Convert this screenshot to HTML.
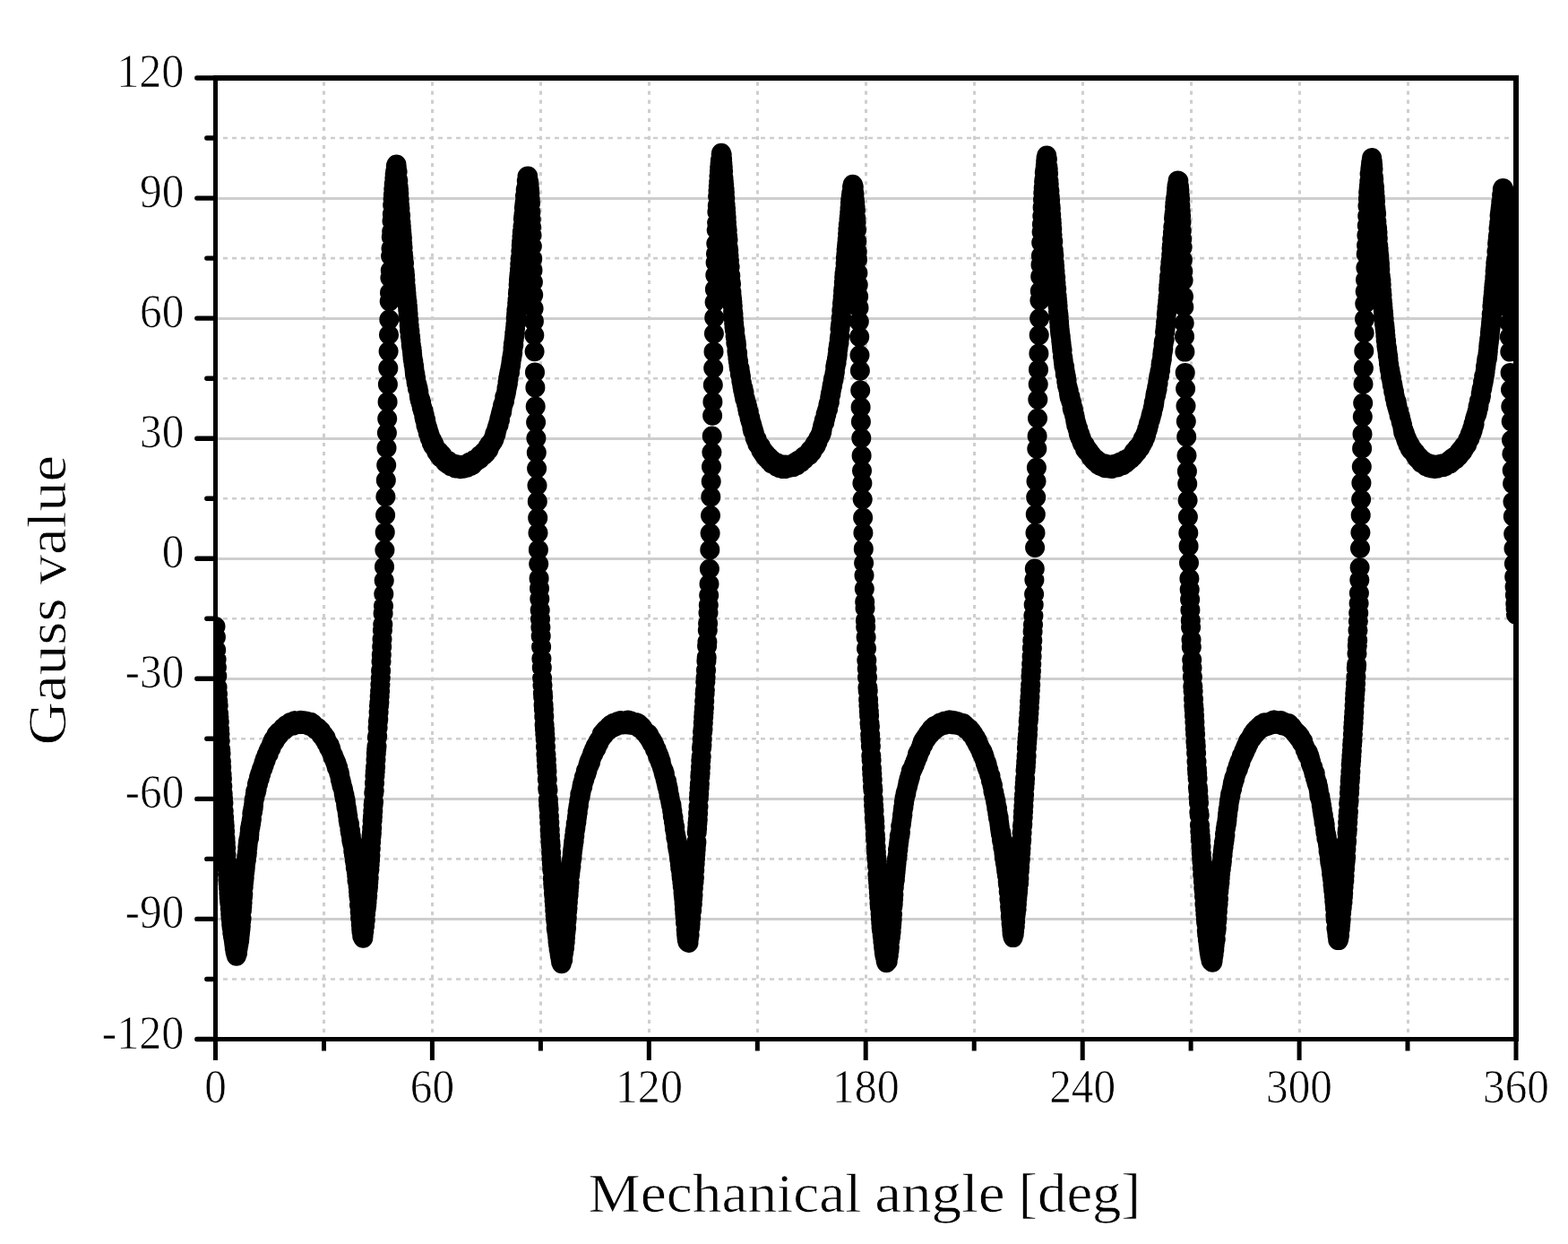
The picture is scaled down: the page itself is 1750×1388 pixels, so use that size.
<!DOCTYPE html>
<html lang="en"><head><meta charset="utf-8"><title>Gauss value vs mechanical angle</title>
<style>html,body{margin:0;padding:0;background:#fff}body{width:1750px;height:1388px;overflow:hidden}svg{display:block}text{font-family:"Liberation Serif",serif;fill:#000;stroke:#fff;stroke-width:0.7px;stroke-linejoin:round}</style></head><body>
<svg width="1750" height="1388" viewBox="0 0 1750 1388">
<rect width="1750" height="1388" fill="#fff"/>
<defs><clipPath id="c"><rect x="240.5" y="87.0" width="1451.5" height="1072.5"/></clipPath></defs>
<g fill="#cecece"><path d="M249.0 1092.5H1692.0" stroke="#cecece" stroke-width="2.6" stroke-dasharray="5 5"/><rect x="243" y="1024" width="1446" height="3"/><path d="M249.0 958.4H1692.0" stroke="#cecece" stroke-width="2.6" stroke-dasharray="5 5"/><rect x="243" y="890" width="1446" height="3"/><path d="M249.0 824.3H1692.0" stroke="#cecece" stroke-width="2.6" stroke-dasharray="5 5"/><rect x="243" y="756" width="1446" height="3"/><path d="M249.0 690.3H1692.0" stroke="#cecece" stroke-width="2.6" stroke-dasharray="5 5"/><rect x="243" y="622" width="1446" height="3"/><path d="M249.0 556.2H1692.0" stroke="#cecece" stroke-width="2.6" stroke-dasharray="5 5"/><rect x="243" y="488" width="1446" height="3"/><path d="M249.0 422.2H1692.0" stroke="#cecece" stroke-width="2.6" stroke-dasharray="5 5"/><rect x="243" y="354" width="1446" height="3"/><path d="M249.0 288.1H1692.0" stroke="#cecece" stroke-width="2.6" stroke-dasharray="5 5"/><rect x="243" y="220" width="1446" height="3"/><path d="M249.0 154.0H1692.0" stroke="#cecece" stroke-width="2.6" stroke-dasharray="5 5"/><path d="M361.5 91.5V1159.5" stroke="#cecece" stroke-width="3" stroke-dasharray="4.2 5.86"/><path d="M482.5 91.5V1159.5" stroke="#cecece" stroke-width="3" stroke-dasharray="4.2 5.86"/><path d="M603.5 91.5V1159.5" stroke="#cecece" stroke-width="3" stroke-dasharray="4.2 5.86"/><path d="M724.5 91.5V1159.5" stroke="#cecece" stroke-width="3" stroke-dasharray="4.2 5.86"/><path d="M845.5 91.5V1159.5" stroke="#cecece" stroke-width="3" stroke-dasharray="4.2 5.86"/><path d="M966.5 91.5V1159.5" stroke="#cecece" stroke-width="3" stroke-dasharray="4.2 5.86"/><path d="M1087.5 91.5V1159.5" stroke="#cecece" stroke-width="3" stroke-dasharray="4.2 5.86"/><path d="M1208.5 91.5V1159.5" stroke="#cecece" stroke-width="3" stroke-dasharray="4.2 5.86"/><path d="M1329.5 91.5V1159.5" stroke="#cecece" stroke-width="3" stroke-dasharray="4.2 5.86"/><path d="M1450.5 91.5V1159.5" stroke="#cecece" stroke-width="3" stroke-dasharray="4.2 5.86"/><path d="M1571.5 91.5V1159.5" stroke="#cecece" stroke-width="3" stroke-dasharray="4.2 5.86"/></g>
<g clip-path="url(#c)"><path d="M240.5 699.0h0M240.9 710.9h0M241.2 725.3h0M241.6 735.8h0M241.9 744.7h0M242.3 754.3h0M242.6 766.7h0M243.0 774.2h0M243.3 782.3h0M243.7 787.2h0M244.0 795.9h0M244.4 800.2h0M244.8 805.7h0M245.1 814.1h0M245.5 818.9h0M245.8 826.4h0M246.2 836.3h0M246.5 840.9h0M246.9 849.6h0M247.2 856.1h0M247.6 864.0h0M247.9 869.1h0M248.3 877.3h0M248.7 885.6h0M249.0 890.5h0M249.4 896.0h0M249.7 905.1h0M250.1 912.1h0M250.4 917.9h0M250.8 921.6h0M251.1 927.8h0M251.5 935.4h0M251.8 940.2h0M252.2 946.2h0M252.5 954.0h0M252.9 960.8h0M253.3 963.4h0M253.6 969.3h0M254.0 975.6h0M254.3 981.6h0M254.7 986.0h0M255.0 990.8h0M255.4 996.8h0M255.7 1001.6h0M256.1 1005.6h0M256.4 1008.2h0M256.8 1014.0h0M257.2 1019.7h0M257.5 1023.7h0M257.9 1026.6h0M258.2 1031.4h0M258.6 1034.7h0M258.9 1036.1h0M259.3 1041.0h0M259.6 1041.9h0M260.0 1045.3h0M260.3 1046.3h0M260.7 1048.9h0M261.1 1051.7h0M261.4 1054.2h0M261.8 1058.0h0M262.1 1058.6h0M262.5 1061.9h0M262.8 1062.2h0M263.2 1064.5h0M263.5 1064.6h0M263.9 1066.7h0M264.2 1065.5h0M264.6 1061.2h0M265.0 1063.6h0M265.3 1059.6h0M265.7 1057.8h0M266.0 1055.1h0M266.4 1053.7h0M266.7 1050.3h0M267.1 1049.9h0M267.4 1046.7h0M267.8 1042.8h0M268.1 1039.8h0M268.5 1036.8h0M268.8 1033.4h0M269.2 1027.4h0M269.6 1024.7h0M269.9 1016.0h0M270.3 1012.1h0M270.6 1007.3h0M271.0 1001.0h0M271.3 997.8h0M271.7 989.4h0M272.0 985.2h0M272.4 981.7h0M272.7 979.2h0M273.1 973.8h0M273.5 970.7h0M273.8 967.7h0M274.2 963.2h0M274.5 961.3h0M274.9 959.5h0M275.2 955.5h0M275.6 954.2h0M275.9 951.3h0M276.3 945.7h0M276.6 942.6h0M277.0 938.9h0M277.4 936.8h0M277.7 935.5h0M278.1 935.1h0M278.4 930.5h0M278.8 925.7h0M279.1 923.7h0M279.5 922.6h0M279.8 920.1h0M280.2 918.7h0M280.5 916.3h0M280.9 914.1h0M281.3 907.5h0M281.6 906.1h0M282.0 906.0h0M282.3 902.2h0M282.7 901.5h0M283.0 898.4h0M283.4 893.6h0M283.7 891.8h0M284.1 890.6h0M284.4 889.7h0M284.8 886.0h0M285.2 882.9h0M285.5 883.8h0M285.9 884.0h0M286.2 882.5h0M286.6 880.8h0M286.9 875.0h0M287.3 875.6h0M287.6 872.8h0M288.0 874.7h0M288.3 872.9h0M288.7 869.5h0M289.0 867.2h0M289.4 868.7h0M289.8 868.8h0M290.1 863.7h0M290.5 865.4h0M290.8 862.0h0M291.2 863.8h0M291.5 860.1h0M291.9 858.3h0M292.2 857.8h0M292.6 858.6h0M292.9 855.8h0M293.3 857.7h0M293.7 855.8h0M294.0 854.3h0M294.4 851.1h0M294.7 853.7h0M295.1 849.2h0M295.4 848.7h0M295.8 846.9h0M296.1 848.9h0M296.5 848.8h0M296.8 847.7h0M297.2 843.9h0M297.6 842.4h0M297.9 842.8h0M298.3 843.0h0M298.6 843.0h0M299.0 839.5h0M299.3 838.4h0M299.7 841.4h0M300.0 840.0h0M300.4 836.1h0M300.7 835.2h0M301.1 837.0h0M301.5 836.4h0M301.8 834.9h0M302.2 833.5h0M302.5 835.0h0M302.9 830.6h0M303.2 831.3h0M303.6 829.4h0M303.9 831.3h0M304.3 827.0h0M304.6 827.4h0M305.0 828.7h0M305.3 825.1h0M305.7 825.6h0M306.1 824.3h0M306.4 827.6h0M306.8 826.9h0M307.1 822.9h0M307.5 824.5h0M307.8 822.9h0M308.2 824.1h0M308.5 819.5h0M308.9 821.3h0M309.2 819.2h0M309.6 822.5h0M310.0 820.0h0M310.3 821.6h0M310.7 817.1h0M311.0 818.8h0M311.4 820.3h0M311.7 819.9h0M312.1 817.2h0M312.4 819.1h0M312.8 818.1h0M313.1 816.5h0M313.5 815.8h0M313.9 815.0h0M314.2 814.5h0M314.6 815.3h0M314.9 813.8h0M315.3 815.7h0M315.6 814.8h0M316.0 811.9h0M316.3 814.7h0M316.7 814.0h0M317.0 813.6h0M317.4 812.2h0M317.8 814.2h0M318.1 813.8h0M318.5 811.4h0M318.8 812.6h0M319.2 809.8h0M319.5 808.9h0M319.9 809.8h0M320.2 809.0h0M320.6 810.2h0M320.9 811.7h0M321.3 809.6h0M321.7 809.7h0M322.0 808.4h0M322.4 810.5h0M322.7 809.9h0M323.1 806.9h0M323.4 809.5h0M323.8 808.6h0M324.1 805.9h0M324.5 809.0h0M324.8 809.6h0M325.2 806.7h0M325.5 807.3h0M325.9 806.9h0M326.3 809.6h0M326.6 807.7h0M327.0 809.6h0M327.3 808.3h0M327.7 805.9h0M328.0 809.0h0M328.4 807.8h0M328.7 804.3h0M329.1 804.3h0M329.4 806.6h0M329.8 805.2h0M330.2 805.7h0M330.5 806.4h0M330.9 804.4h0M331.2 807.7h0M331.6 804.5h0M331.9 808.3h0M332.3 804.2h0M332.6 805.1h0M333.0 806.2h0M333.3 805.0h0M333.7 806.0h0M334.1 804.4h0M334.4 807.7h0M334.8 805.8h0M335.1 804.0h0M335.5 803.7h0M335.8 807.2h0M336.2 807.1h0M336.5 803.9h0M336.9 806.6h0M337.2 808.1h0M337.6 804.9h0M338.0 806.4h0M338.3 804.9h0M338.7 806.2h0M339.0 806.2h0M339.4 806.6h0M339.7 807.3h0M340.1 804.4h0M340.4 805.6h0M340.8 805.1h0M341.1 804.6h0M341.5 807.9h0M341.8 804.7h0M342.2 805.1h0M342.6 806.9h0M342.9 806.7h0M343.3 809.0h0M343.6 805.9h0M344.0 808.9h0M344.3 807.3h0M344.7 809.4h0M345.0 809.7h0M345.4 807.2h0M345.7 807.9h0M346.1 807.1h0M346.5 806.7h0M346.8 805.8h0M347.2 810.4h0M347.5 807.8h0M347.9 808.2h0M348.2 808.0h0M348.6 808.7h0M348.9 808.9h0M349.3 807.5h0M349.6 809.8h0M350.0 809.6h0M350.4 809.1h0M350.7 812.3h0M351.1 810.9h0M351.4 812.8h0M351.8 812.9h0M352.1 813.9h0M352.5 813.2h0M352.8 813.4h0M353.2 812.3h0M353.5 812.4h0M353.9 811.5h0M354.3 813.5h0M354.6 811.9h0M355.0 814.7h0M355.3 813.3h0M355.7 814.7h0M356.0 814.7h0M356.4 816.8h0M356.7 814.0h0M357.1 815.2h0M357.4 818.7h0M357.8 817.2h0M358.2 815.4h0M358.5 820.4h0M358.9 819.6h0M359.2 817.9h0M359.6 821.8h0M359.9 818.8h0M360.3 820.1h0M360.6 819.8h0M361.0 821.1h0M361.3 819.7h0M361.7 823.2h0M362.0 822.6h0M362.4 825.7h0M362.8 823.8h0M363.1 825.1h0M363.5 822.9h0M363.8 823.7h0M364.2 828.3h0M364.5 829.4h0M364.9 829.7h0M365.2 830.0h0M365.6 828.0h0M365.9 829.6h0M366.3 830.4h0M366.7 831.5h0M367.0 834.5h0M367.4 833.3h0M367.7 831.1h0M368.1 832.8h0M368.4 834.8h0M368.8 837.4h0M369.1 834.7h0M369.5 838.0h0M369.8 837.8h0M370.2 840.7h0M370.6 841.0h0M370.9 841.8h0M371.3 842.4h0M371.6 845.2h0M372.0 842.9h0M372.3 846.3h0M372.7 845.1h0M373.0 845.9h0M373.4 846.5h0M373.7 849.5h0M374.1 850.4h0M374.5 849.1h0M374.8 851.9h0M375.2 854.1h0M375.5 851.4h0M375.9 856.8h0M376.2 853.6h0M376.6 857.6h0M376.9 858.2h0M377.3 856.5h0M377.6 860.3h0M378.0 860.2h0M378.3 863.0h0M378.7 861.8h0M379.1 864.1h0M379.4 866.7h0M379.8 870.0h0M380.1 870.1h0M380.5 870.9h0M380.8 873.4h0M381.2 873.7h0M381.5 876.9h0M381.9 877.0h0M382.2 878.4h0M382.6 879.3h0M383.0 880.6h0M383.3 882.3h0M383.7 885.5h0M384.0 887.0h0M384.4 886.7h0M384.7 891.0h0M385.1 891.0h0M385.4 891.6h0M385.8 893.9h0M386.1 897.7h0M386.5 901.0h0M386.9 901.5h0M387.2 903.3h0M387.6 906.2h0M387.9 909.2h0M388.3 910.8h0M388.6 914.9h0M389.0 916.0h0M389.3 918.9h0M389.7 918.6h0M390.0 919.4h0M390.4 925.5h0M390.8 928.4h0M391.1 927.1h0M391.5 931.2h0M391.8 932.7h0M392.2 937.2h0M392.5 938.9h0M392.9 938.6h0M393.2 941.4h0M393.6 942.5h0M393.9 944.3h0M394.3 949.7h0M394.7 950.8h0M395.0 954.1h0M395.4 956.3h0M395.7 959.4h0M396.1 959.0h0M396.4 963.3h0M396.8 968.3h0M397.1 968.3h0M397.5 969.7h0M397.8 972.8h0M398.2 977.3h0M398.5 982.8h0M398.9 981.9h0M399.3 984.4h0M399.6 989.0h0M400.0 994.6h0M400.3 999.2h0M400.7 1002.0h0M401.0 1009.9h0M401.4 1011.4h0M401.7 1017.6h0M402.1 1024.4h0M402.4 1025.1h0M402.8 1031.4h0M403.2 1036.6h0M403.5 1039.7h0M403.9 1039.1h0M404.2 1044.6h0M404.6 1043.1h0M404.9 1043.6h0M405.3 1046.8h0M405.6 1044.0h0M406.0 1040.3h0M406.3 1039.2h0M406.7 1034.3h0M407.1 1033.3h0M407.4 1028.3h0M407.8 1026.5h0M408.1 1019.5h0M408.5 1015.8h0M408.8 1013.5h0M409.2 1010.9h0M409.5 1006.8h0M409.9 1001.5h0M410.2 999.5h0M410.6 993.1h0M411.0 989.5h0M411.3 984.5h0M411.7 979.7h0M412.0 972.2h0M412.4 970.2h0M412.7 964.6h0M413.1 959.6h0M413.4 954.8h0M413.8 947.1h0M414.1 939.4h0M414.5 933.3h0M414.9 929.4h0M415.2 923.8h0M415.6 915.6h0M415.9 911.2h0M416.3 905.0h0M416.6 898.3h0M417.0 894.9h0M417.3 884.9h0M417.7 882.2h0M418.0 873.8h0M418.4 865.5h0M418.7 861.0h0M419.1 855.7h0M419.5 847.6h0M419.8 840.6h0M420.2 836.0h0M420.5 832.8h0M420.9 822.8h0M421.2 821.2h0M421.6 812.0h0M421.9 805.0h0M422.3 802.6h0M422.6 794.7h0M423.0 787.6h0M423.4 783.9h0M423.7 777.0h0M424.1 771.2h0M424.4 763.7h0M424.8 756.7h0M425.1 748.4h0M425.5 738.3h0M425.8 730.5h0M426.2 721.6h0M426.5 713.2h0M426.9 703.2h0M427.3 696.7h0M427.6 684.4h0M428.0 676.3h0M428.3 662.8h0M428.7 647.8h0M429.0 632.4h0M429.4 613.7h0M429.7 593.9h0M430.1 574.7h0M430.4 554.2h0M430.8 535.9h0M431.2 519.1h0M431.5 499.9h0M431.9 483.0h0M432.2 467.3h0M432.6 448.4h0M432.9 428.9h0M433.3 410.9h0M433.6 392.1h0M434.0 373.5h0M434.3 356.6h0M434.7 336.3h0M435.0 326.5h0M435.4 310.0h0M435.8 301.8h0M436.1 285.7h0M436.5 277.3h0M436.8 264.4h0M437.2 258.2h0M437.5 246.6h0M437.9 238.9h0M438.2 228.9h0M438.6 222.2h0M438.9 217.2h0M439.3 211.1h0M439.7 205.4h0M440.0 205.4h0M440.4 199.0h0M440.7 194.7h0M441.1 191.5h0M441.4 190.5h0M441.8 185.4h0M442.1 187.1h0M442.5 183.6h0M442.8 186.4h0M443.2 190.8h0M443.6 191.6h0M443.9 200.1h0M444.3 201.9h0M444.6 208.0h0M445.0 211.3h0M445.3 216.0h0M445.7 222.6h0M446.0 228.5h0M446.4 232.7h0M446.7 238.8h0M447.1 240.5h0M447.5 248.3h0M447.8 252.9h0M448.2 257.6h0M448.5 261.8h0M448.9 265.4h0M449.2 271.6h0M449.6 276.2h0M449.9 283.0h0M450.3 286.6h0M450.6 291.8h0M451.0 293.7h0M451.4 301.7h0M451.7 303.2h0M452.1 307.2h0M452.4 312.7h0M452.8 319.4h0M453.1 322.8h0M453.5 327.3h0M453.8 331.5h0M454.2 335.8h0M454.5 336.6h0M454.9 341.7h0M455.2 345.4h0M455.6 350.4h0M456.0 356.2h0M456.3 357.2h0M456.7 363.3h0M457.0 368.5h0M457.4 369.4h0M457.7 375.3h0M458.1 375.9h0M458.4 379.5h0M458.8 384.9h0M459.1 387.1h0M459.5 388.9h0M459.9 392.0h0M460.2 395.6h0M460.6 399.9h0M460.9 402.1h0M461.3 403.0h0M461.6 406.7h0M462.0 407.9h0M462.3 410.5h0M462.7 414.4h0M463.0 417.9h0M463.4 417.2h0M463.8 420.9h0M464.1 421.9h0M464.5 426.0h0M464.8 427.8h0M465.2 428.3h0M465.5 429.0h0M465.9 433.4h0M466.2 432.0h0M466.6 433.3h0M466.9 435.8h0M467.3 437.1h0M467.7 441.2h0M468.0 443.5h0M468.4 443.9h0M468.7 446.4h0M469.1 446.5h0M469.4 446.3h0M469.8 450.2h0M470.1 448.8h0M470.5 452.2h0M470.8 455.1h0M471.2 454.2h0M471.5 456.6h0M471.9 458.6h0M472.3 459.1h0M472.6 458.2h0M473.0 460.8h0M473.3 464.5h0M473.7 462.9h0M474.0 468.0h0M474.4 468.3h0M474.7 469.9h0M475.1 468.3h0M475.4 474.6h0M475.8 472.8h0M476.2 474.9h0M476.5 478.0h0M476.9 476.9h0M477.2 477.4h0M477.6 478.9h0M477.9 483.5h0M478.3 481.2h0M478.6 484.6h0M479.0 483.2h0M479.3 485.7h0M479.7 489.1h0M480.1 486.8h0M480.4 488.7h0M480.8 490.1h0M481.1 490.0h0M481.5 491.8h0M481.8 494.5h0M482.2 491.0h0M482.5 494.8h0M482.9 495.6h0M483.2 497.4h0M483.6 494.8h0M484.0 494.5h0M484.3 497.4h0M484.7 496.3h0M485.0 499.3h0M485.4 499.6h0M485.7 500.7h0M486.1 501.3h0M486.4 500.5h0M486.8 502.2h0M487.1 504.1h0M487.5 501.5h0M487.9 503.9h0M488.2 504.0h0M488.6 505.5h0M488.9 506.7h0M489.3 504.2h0M489.6 505.8h0M490.0 503.7h0M490.3 508.7h0M490.7 505.2h0M491.0 509.6h0M491.4 509.2h0M491.7 510.4h0M492.1 508.4h0M492.5 509.6h0M492.8 510.1h0M493.2 507.3h0M493.5 509.7h0M493.9 508.4h0M494.2 508.9h0M494.6 512.0h0M494.9 510.9h0M495.3 513.5h0M495.6 513.0h0M496.0 511.8h0M496.4 512.8h0M496.7 515.5h0M497.1 515.9h0M497.4 512.8h0M497.8 513.5h0M498.1 514.0h0M498.5 516.4h0M498.8 514.0h0M499.2 515.3h0M499.5 517.7h0M499.9 517.8h0M500.3 515.9h0M500.6 514.3h0M501.0 516.5h0M501.3 518.1h0M501.7 516.3h0M502.0 519.0h0M502.4 517.0h0M502.7 518.3h0M503.1 520.3h0M503.4 518.1h0M503.8 518.3h0M504.2 516.5h0M504.5 517.6h0M504.9 519.8h0M505.2 518.2h0M505.6 520.3h0M505.9 518.5h0M506.3 518.9h0M506.6 518.9h0M507.0 521.3h0M507.3 518.7h0M507.7 519.7h0M508.0 518.8h0M508.4 522.4h0M508.8 519.1h0M509.1 518.1h0M509.5 520.0h0M509.8 522.3h0M510.2 518.5h0M510.5 520.4h0M510.9 521.8h0M511.2 520.2h0M511.6 519.1h0M511.9 522.8h0M512.3 520.6h0M512.7 520.3h0M513.0 518.8h0M513.4 523.2h0M513.7 520.9h0M514.1 519.7h0M514.4 520.1h0M514.8 519.0h0M515.1 520.0h0M515.5 520.1h0M515.8 520.1h0M516.2 522.3h0M516.6 518.8h0M516.9 520.4h0M517.3 522.7h0M517.6 518.7h0M518.0 519.3h0M518.3 519.3h0M518.7 522.2h0M519.0 518.9h0M519.4 520.6h0M519.7 518.1h0M520.1 521.3h0M520.5 520.3h0M520.8 521.3h0M521.2 521.6h0M521.5 520.0h0M521.9 518.0h0M522.2 519.2h0M522.6 519.7h0M522.9 516.5h0M523.3 517.4h0M523.6 516.0h0M524.0 519.2h0M524.4 519.6h0M524.7 515.6h0M525.1 519.9h0M525.4 516.2h0M525.8 515.3h0M526.1 516.2h0M526.5 516.7h0M526.8 517.6h0M527.2 517.7h0M527.5 518.7h0M527.9 516.9h0M528.2 516.1h0M528.6 517.1h0M529.0 513.3h0M529.3 513.0h0M529.7 516.2h0M530.0 514.4h0M530.4 512.8h0M530.7 514.0h0M531.1 514.9h0M531.4 512.2h0M531.8 513.4h0M532.1 512.7h0M532.5 511.8h0M532.9 513.8h0M533.2 511.5h0M533.6 513.3h0M533.9 511.1h0M534.3 512.7h0M534.6 509.8h0M535.0 511.7h0M535.3 508.3h0M535.7 511.9h0M536.0 508.9h0M536.4 507.9h0M536.8 507.5h0M537.1 508.9h0M537.5 508.4h0M537.8 509.3h0M538.2 506.2h0M538.5 506.3h0M538.9 507.2h0M539.2 506.9h0M539.6 504.5h0M539.9 505.9h0M540.3 507.8h0M540.7 507.3h0M541.0 503.7h0M541.4 504.5h0M541.7 503.9h0M542.1 504.1h0M542.4 505.7h0M542.8 501.4h0M543.1 503.0h0M543.5 502.2h0M543.8 501.8h0M544.2 502.9h0M544.5 498.3h0M544.9 497.8h0M545.3 502.0h0M545.6 501.2h0M546.0 499.1h0M546.3 495.6h0M546.7 497.5h0M547.0 494.8h0M547.4 497.1h0M547.7 495.7h0M548.1 493.5h0M548.4 493.7h0M548.8 494.8h0M549.2 493.4h0M549.5 491.9h0M549.9 492.4h0M550.2 492.7h0M550.6 491.8h0M550.9 488.6h0M551.3 490.4h0M551.6 489.7h0M552.0 488.3h0M552.3 483.9h0M552.7 483.0h0M553.1 484.5h0M553.4 484.7h0M553.8 482.6h0M554.1 479.3h0M554.5 479.6h0M554.8 476.9h0M555.2 475.8h0M555.5 474.9h0M555.9 473.3h0M556.2 473.8h0M556.6 474.2h0M557.0 469.9h0M557.3 467.5h0M557.7 467.7h0M558.0 468.4h0M558.4 463.7h0M558.7 462.3h0M559.1 460.9h0M559.4 460.8h0M559.8 458.0h0M560.1 460.0h0M560.5 456.9h0M560.9 453.4h0M561.2 451.9h0M561.6 451.3h0M561.9 450.8h0M562.3 449.0h0M562.6 448.5h0M563.0 447.7h0M563.3 442.7h0M563.7 442.5h0M564.0 441.9h0M564.4 440.2h0M564.7 439.2h0M565.1 437.3h0M565.5 433.0h0M565.8 433.0h0M566.2 430.9h0M566.5 426.4h0M566.9 428.1h0M567.2 421.8h0M567.6 422.4h0M567.9 418.3h0M568.3 416.2h0M568.6 414.8h0M569.0 415.8h0M569.4 410.6h0M569.7 409.4h0M570.1 407.8h0M570.4 404.5h0M570.8 401.3h0M571.1 400.2h0M571.5 397.6h0M571.8 395.9h0M572.2 393.5h0M572.5 388.4h0M572.9 383.8h0M573.3 385.1h0M573.6 379.2h0M574.0 376.1h0M574.3 371.8h0M574.7 370.1h0M575.0 366.4h0M575.4 362.1h0M575.7 355.1h0M576.1 350.5h0M576.4 346.1h0M576.8 344.1h0M577.2 338.8h0M577.5 334.4h0M577.9 327.6h0M578.2 324.9h0M578.6 317.5h0M578.9 312.4h0M579.3 308.9h0M579.6 305.9h0M580.0 300.8h0M580.3 294.7h0M580.7 289.3h0M581.0 287.2h0M581.4 280.2h0M581.8 274.0h0M582.1 269.9h0M582.5 264.1h0M582.8 258.7h0M583.2 257.1h0M583.5 252.5h0M583.9 244.3h0M584.2 242.1h0M584.6 238.9h0M584.9 232.0h0M585.3 228.5h0M585.7 225.9h0M586.0 218.7h0M586.4 217.4h0M586.7 211.6h0M587.1 211.6h0M587.4 209.2h0M587.8 201.8h0M588.1 202.0h0M588.5 196.8h0M588.8 197.7h0M589.2 196.5h0M589.6 200.5h0M589.9 202.1h0M590.3 203.3h0M590.6 206.0h0M591.0 211.3h0M591.3 216.1h0M591.7 222.2h0M592.0 226.9h0M592.4 236.7h0M592.7 245.0h0M593.1 253.5h0M593.5 262.2h0M593.8 274.7h0M594.2 288.8h0M594.5 301.6h0M594.9 314.8h0M595.2 329.1h0M595.6 344.2h0M595.9 358.4h0M596.3 374.0h0M596.6 392.3h0M597.0 415.4h0M597.4 432.4h0M597.7 453.6h0M598.1 471.3h0M598.4 489.1h0M598.8 505.0h0M599.1 522.8h0M599.5 541.8h0M599.8 559.5h0M600.2 577.9h0M600.5 594.6h0M600.9 613.4h0M601.2 629.2h0M601.6 645.4h0M602.0 656.5h0M602.3 668.2h0M602.7 680.7h0M603.0 690.7h0M603.4 700.0h0M603.7 709.7h0M604.1 721.8h0M604.4 735.1h0M604.8 744.9h0M605.1 756.8h0M605.5 764.4h0M605.9 773.4h0M606.2 777.8h0M606.6 786.4h0M606.9 791.6h0M607.3 799.4h0M607.6 808.5h0M608.0 813.9h0M608.3 819.3h0M608.7 824.8h0M609.0 833.2h0M609.4 841.9h0M609.8 847.7h0M610.1 855.0h0M610.5 860.6h0M610.8 869.5h0M611.2 879.5h0M611.5 881.5h0M611.9 892.4h0M612.2 898.4h0M612.6 902.5h0M612.9 910.9h0M613.3 917.7h0M613.7 925.8h0M614.0 932.6h0M614.4 939.5h0M614.7 943.5h0M615.1 951.4h0M615.4 958.3h0M615.8 963.6h0M616.1 969.6h0M616.5 971.6h0M616.8 980.3h0M617.2 986.1h0M617.5 989.5h0M617.9 996.6h0M618.3 999.4h0M618.6 1005.2h0M619.0 1010.6h0M619.3 1016.0h0M619.7 1021.2h0M620.0 1025.3h0M620.4 1028.2h0M620.7 1035.4h0M621.1 1038.2h0M621.4 1039.4h0M621.8 1042.5h0M622.2 1046.1h0M622.5 1050.5h0M622.9 1053.6h0M623.2 1055.1h0M623.6 1059.2h0M623.9 1059.6h0M624.3 1062.1h0M624.6 1064.7h0M625.0 1067.2h0M625.3 1067.8h0M625.7 1070.9h0M626.1 1073.4h0M626.4 1074.3h0M626.8 1075.2h0M627.1 1072.4h0M627.5 1070.8h0M627.8 1070.3h0M628.2 1070.9h0M628.5 1066.0h0M628.9 1063.3h0M629.2 1062.4h0M629.6 1058.5h0M630.0 1057.7h0M630.3 1051.8h0M630.7 1051.3h0M631.0 1046.2h0M631.4 1040.5h0M631.7 1038.0h0M632.1 1035.2h0M632.4 1027.8h0M632.8 1024.0h0M633.1 1017.0h0M633.5 1013.4h0M633.9 1006.8h0M634.2 1001.2h0M634.6 998.8h0M634.9 993.5h0M635.3 989.3h0M635.6 984.9h0M636.0 977.3h0M636.3 975.2h0M636.7 971.3h0M637.0 966.8h0M637.4 967.1h0M637.7 960.9h0M638.1 958.8h0M638.5 956.4h0M638.8 951.5h0M639.2 948.2h0M639.5 946.2h0M639.9 942.8h0M640.2 939.1h0M640.6 938.7h0M640.9 933.5h0M641.3 932.5h0M641.6 927.6h0M642.0 925.8h0M642.4 923.5h0M642.7 919.0h0M643.1 918.6h0M643.4 917.2h0M643.8 912.9h0M644.1 910.9h0M644.5 905.3h0M644.8 906.5h0M645.2 901.7h0M645.5 899.4h0M645.9 899.1h0M646.3 893.9h0M646.6 892.2h0M647.0 890.8h0M647.3 886.3h0M647.7 888.7h0M648.0 884.5h0M648.4 884.5h0M648.7 881.9h0M649.1 880.9h0M649.4 877.9h0M649.8 875.4h0M650.2 877.9h0M650.5 874.5h0M650.9 871.9h0M651.2 872.8h0M651.6 871.2h0M651.9 867.0h0M652.3 869.8h0M652.6 866.3h0M653.0 864.5h0M653.3 863.5h0M653.7 865.3h0M654.0 859.8h0M654.4 863.4h0M654.8 862.2h0M655.1 858.6h0M655.5 860.0h0M655.8 857.8h0M656.2 854.4h0M656.5 854.6h0M656.9 853.6h0M657.2 850.9h0M657.6 854.0h0M657.9 848.7h0M658.3 849.5h0M658.7 848.3h0M659.0 850.7h0M659.4 845.5h0M659.7 847.0h0M660.1 846.1h0M660.4 844.0h0M660.8 844.3h0M661.1 840.7h0M661.5 839.9h0M661.8 841.8h0M662.2 841.6h0M662.6 839.9h0M662.9 836.2h0M663.3 838.7h0M663.6 836.9h0M664.0 837.6h0M664.3 835.4h0M664.7 832.3h0M665.0 834.2h0M665.4 835.4h0M665.7 831.6h0M666.1 830.1h0M666.5 831.5h0M666.8 832.0h0M667.2 830.0h0M667.5 827.2h0M667.9 828.1h0M668.2 829.6h0M668.6 825.6h0M668.9 827.1h0M669.3 825.1h0M669.6 825.1h0M670.0 825.6h0M670.4 824.1h0M670.7 824.1h0M671.1 822.2h0M671.4 823.6h0M671.8 818.9h0M672.1 819.2h0M672.5 819.2h0M672.8 821.1h0M673.2 817.2h0M673.5 816.7h0M673.9 820.5h0M674.2 819.4h0M674.6 819.6h0M675.0 818.4h0M675.3 815.5h0M675.7 814.2h0M676.0 816.0h0M676.4 816.2h0M676.7 814.2h0M677.1 813.3h0M677.4 814.7h0M677.8 814.4h0M678.1 814.5h0M678.5 814.0h0M678.9 813.6h0M679.2 814.9h0M679.6 810.5h0M679.9 812.3h0M680.3 811.1h0M680.6 812.0h0M681.0 810.1h0M681.3 812.5h0M681.7 809.2h0M682.0 808.4h0M682.4 812.2h0M682.8 810.5h0M683.1 812.2h0M683.5 808.3h0M683.8 809.4h0M684.2 811.6h0M684.5 807.1h0M684.9 806.8h0M685.2 809.8h0M685.6 807.4h0M685.9 810.5h0M686.3 807.5h0M686.7 809.1h0M687.0 810.4h0M687.4 808.9h0M687.7 807.6h0M688.1 810.0h0M688.4 805.7h0M688.8 807.9h0M689.1 807.3h0M689.5 805.0h0M689.8 805.0h0M690.2 806.0h0M690.6 805.8h0M690.9 805.2h0M691.3 806.1h0M691.6 806.1h0M692.0 804.8h0M692.3 808.3h0M692.7 804.0h0M693.0 807.6h0M693.4 807.6h0M693.7 805.6h0M694.1 805.8h0M694.4 805.8h0M694.8 804.2h0M695.2 808.4h0M695.5 807.6h0M695.9 807.4h0M696.2 805.6h0M696.6 806.5h0M696.9 805.1h0M697.3 806.2h0M697.6 808.1h0M698.0 804.4h0M698.3 805.8h0M698.7 806.3h0M699.1 806.9h0M699.4 804.1h0M699.8 805.3h0M700.1 807.9h0M700.5 806.5h0M700.8 803.6h0M701.2 807.3h0M701.5 808.0h0M701.9 808.3h0M702.2 808.3h0M702.6 808.6h0M703.0 806.5h0M703.3 804.4h0M703.7 804.3h0M704.0 804.6h0M704.4 807.2h0M704.7 805.8h0M705.1 809.0h0M705.4 805.6h0M705.8 808.1h0M706.1 806.4h0M706.5 808.3h0M706.9 807.4h0M707.2 807.6h0M707.6 807.0h0M707.9 808.5h0M708.3 809.3h0M708.6 807.6h0M709.0 806.7h0M709.3 808.7h0M709.7 806.0h0M710.0 808.6h0M710.4 809.0h0M710.7 809.2h0M711.1 806.5h0M711.5 810.0h0M711.8 808.5h0M712.2 809.2h0M712.5 807.2h0M712.9 812.0h0M713.2 807.7h0M713.6 811.0h0M713.9 809.1h0M714.3 812.3h0M714.6 810.1h0M715.0 812.3h0M715.4 813.3h0M715.7 813.6h0M716.1 814.0h0M716.4 810.7h0M716.8 813.3h0M717.1 814.3h0M717.5 812.2h0M717.8 814.0h0M718.2 813.7h0M718.5 816.0h0M718.9 816.8h0M719.3 817.5h0M719.6 816.9h0M720.0 817.0h0M720.3 816.2h0M720.7 817.9h0M721.0 818.4h0M721.4 819.7h0M721.7 819.2h0M722.1 818.8h0M722.4 821.3h0M722.8 818.7h0M723.2 818.4h0M723.5 820.6h0M723.9 822.3h0M724.2 819.6h0M724.6 824.3h0M724.9 824.5h0M725.3 822.2h0M725.6 822.6h0M726.0 825.3h0M726.3 827.2h0M726.7 825.2h0M727.1 827.3h0M727.4 825.4h0M727.8 829.9h0M728.1 828.3h0M728.5 830.8h0M728.8 827.7h0M729.2 828.2h0M729.5 830.9h0M729.9 831.1h0M730.2 830.9h0M730.6 831.6h0M730.9 836.2h0M731.3 836.0h0M731.7 834.5h0M732.0 837.9h0M732.4 838.0h0M732.7 836.1h0M733.1 839.4h0M733.4 839.8h0M733.8 842.4h0M734.1 843.7h0M734.5 840.8h0M734.8 842.4h0M735.2 846.5h0M735.6 843.5h0M735.9 844.6h0M736.3 848.3h0M736.6 846.6h0M737.0 851.2h0M737.3 851.6h0M737.7 849.5h0M738.0 852.3h0M738.4 853.8h0M738.7 855.4h0M739.1 856.9h0M739.5 858.1h0M739.8 857.9h0M740.2 858.8h0M740.5 862.1h0M740.9 860.1h0M741.2 864.6h0M741.6 865.6h0M741.9 863.3h0M742.3 867.2h0M742.6 869.8h0M743.0 869.9h0M743.4 872.5h0M743.7 874.2h0M744.1 871.5h0M744.4 877.5h0M744.8 875.8h0M745.1 878.8h0M745.5 881.5h0M745.8 880.0h0M746.2 883.4h0M746.5 887.4h0M746.9 887.4h0M747.2 888.0h0M747.6 890.7h0M748.0 893.2h0M748.3 895.0h0M748.7 897.1h0M749.0 898.4h0M749.4 897.9h0M749.7 900.4h0M750.1 904.5h0M750.4 905.0h0M750.8 910.8h0M751.1 910.8h0M751.5 912.1h0M751.9 917.1h0M752.2 918.0h0M752.6 920.5h0M752.9 924.8h0M753.3 922.8h0M753.6 928.1h0M754.0 929.5h0M754.3 934.5h0M754.7 934.4h0M755.0 937.1h0M755.4 937.3h0M755.8 943.7h0M756.1 942.1h0M756.5 947.9h0M756.8 947.2h0M757.2 950.0h0M757.5 953.3h0M757.9 957.1h0M758.2 959.2h0M758.6 960.7h0M758.9 964.8h0M759.3 969.1h0M759.7 968.6h0M760.0 971.4h0M760.4 976.3h0M760.7 979.5h0M761.1 979.1h0M761.4 984.8h0M761.8 989.2h0M762.1 988.6h0M762.5 995.5h0M762.8 998.9h0M763.2 1002.6h0M763.6 1007.9h0M763.9 1014.1h0M764.3 1019.0h0M764.6 1022.7h0M765.0 1029.4h0M765.3 1030.3h0M765.7 1037.7h0M766.0 1042.3h0M766.4 1045.6h0M766.7 1048.4h0M767.1 1047.2h0M767.4 1051.0h0M767.8 1050.1h0M768.2 1049.5h0M768.5 1051.9h0M768.9 1047.3h0M769.2 1043.6h0M769.6 1043.3h0M769.9 1036.3h0M770.3 1034.4h0M770.6 1030.4h0M771.0 1024.1h0M771.3 1024.1h0M771.7 1016.7h0M772.1 1016.1h0M772.4 1010.4h0M772.8 1008.5h0M773.1 1002.6h0M773.5 998.5h0M773.8 991.1h0M774.2 985.1h0M774.5 984.1h0M774.9 979.3h0M775.2 971.0h0M775.6 963.9h0M776.0 958.3h0M776.3 953.1h0M776.7 947.9h0M777.0 942.7h0M777.4 939.4h0M777.7 928.8h0M778.1 924.4h0M778.4 918.6h0M778.8 914.5h0M779.1 907.4h0M779.5 900.1h0M779.9 890.6h0M780.2 885.9h0M780.6 879.3h0M780.9 874.5h0M781.3 866.4h0M781.6 862.7h0M782.0 856.0h0M782.3 848.5h0M782.7 844.2h0M783.0 834.7h0M783.4 831.8h0M783.7 824.8h0M784.1 816.7h0M784.5 813.5h0M784.8 806.6h0M785.2 800.0h0M785.5 795.2h0M785.9 789.8h0M786.2 782.2h0M786.6 774.3h0M786.9 769.5h0M787.3 761.1h0M787.6 756.1h0M788.0 747.9h0M788.4 737.4h0M788.7 733.5h0M789.1 720.9h0M789.4 716.2h0M789.8 703.2h0M790.1 695.5h0M790.5 683.7h0M790.8 675.3h0M791.2 664.3h0M791.5 651.5h0M791.9 634.7h0M792.3 613.4h0M792.6 595.1h0M793.0 575.2h0M793.3 554.4h0M793.7 537.3h0M794.0 520.7h0M794.4 504.7h0M794.7 486.5h0M795.1 463.8h0M795.4 448.4h0M795.8 429.6h0M796.2 410.8h0M796.5 392.4h0M796.9 372.2h0M797.2 354.5h0M797.6 337.2h0M797.9 322.9h0M798.3 307.0h0M798.6 293.1h0M799.0 283.2h0M799.3 271.7h0M799.7 256.5h0M800.1 248.7h0M800.4 236.4h0M800.8 229.4h0M801.1 219.2h0M801.5 213.1h0M801.8 208.0h0M802.2 202.9h0M802.5 196.7h0M802.9 191.2h0M803.2 186.9h0M803.6 182.8h0M803.9 178.9h0M804.3 177.6h0M804.7 172.8h0M805.0 170.7h0M805.4 171.7h0M805.7 172.7h0M806.1 177.4h0M806.4 182.2h0M806.8 186.5h0M807.1 191.3h0M807.5 198.5h0M807.8 202.3h0M808.2 206.4h0M808.6 211.0h0M808.9 215.1h0M809.3 221.3h0M809.6 228.3h0M810.0 232.9h0M810.3 237.7h0M810.7 242.6h0M811.0 248.6h0M811.4 254.2h0M811.7 257.1h0M812.1 263.6h0M812.5 267.7h0M812.8 276.6h0M813.2 279.3h0M813.5 285.2h0M813.9 290.8h0M814.2 297.0h0M814.6 297.7h0M814.9 306.8h0M815.3 307.6h0M815.6 314.7h0M816.0 317.1h0M816.4 325.9h0M816.7 330.5h0M817.1 333.5h0M817.4 337.1h0M817.8 341.5h0M818.1 347.7h0M818.5 350.4h0M818.8 355.9h0M819.2 361.0h0M819.5 365.0h0M819.9 368.2h0M820.2 368.6h0M820.6 375.2h0M821.0 377.2h0M821.3 382.5h0M821.7 381.5h0M822.0 385.0h0M822.4 391.6h0M822.7 394.3h0M823.1 393.9h0M823.4 399.5h0M823.8 403.2h0M824.1 403.4h0M824.5 408.2h0M824.9 411.1h0M825.2 410.7h0M825.6 411.4h0M825.9 417.5h0M826.3 416.4h0M826.6 419.6h0M827.0 420.4h0M827.3 425.0h0M827.7 426.8h0M828.0 427.6h0M828.4 431.1h0M828.8 432.5h0M829.1 435.2h0M829.5 433.3h0M829.8 436.8h0M830.2 440.1h0M830.5 437.9h0M830.9 442.9h0M831.2 445.3h0M831.6 444.6h0M831.9 445.4h0M832.3 447.4h0M832.7 448.3h0M833.0 450.9h0M833.4 450.4h0M833.7 452.9h0M834.1 456.3h0M834.4 454.4h0M834.8 459.8h0M835.1 459.8h0M835.5 460.1h0M835.8 459.7h0M836.2 464.2h0M836.6 466.4h0M836.9 465.6h0M837.3 466.3h0M837.6 470.2h0M838.0 470.7h0M838.3 471.1h0M838.7 473.2h0M839.0 473.0h0M839.4 477.8h0M839.7 475.9h0M840.1 481.0h0M840.4 481.0h0M840.8 479.6h0M841.2 482.5h0M841.5 481.7h0M841.9 484.3h0M842.2 484.6h0M842.6 488.4h0M842.9 488.1h0M843.3 489.1h0M843.6 490.9h0M844.0 490.9h0M844.3 490.7h0M844.7 490.1h0M845.1 492.8h0M845.4 495.7h0M845.8 495.0h0M846.1 496.1h0M846.5 497.0h0M846.8 496.8h0M847.2 498.1h0M847.5 496.4h0M847.9 498.7h0M848.2 497.2h0M848.6 500.6h0M849.0 497.9h0M849.3 502.7h0M849.7 500.8h0M850.0 503.8h0M850.4 503.8h0M850.7 501.5h0M851.1 503.2h0M851.4 504.6h0M851.8 506.6h0M852.1 503.1h0M852.5 504.6h0M852.9 508.1h0M853.2 507.0h0M853.6 506.7h0M853.9 509.4h0M854.3 509.6h0M854.6 507.3h0M855.0 506.5h0M855.3 509.6h0M855.7 511.5h0M856.0 509.8h0M856.4 508.7h0M856.7 509.1h0M857.1 509.4h0M857.5 509.9h0M857.8 510.5h0M858.2 514.1h0M858.5 511.5h0M858.9 510.5h0M859.2 513.1h0M859.6 514.6h0M859.9 512.0h0M860.3 512.8h0M860.6 514.2h0M861.0 517.1h0M861.4 515.5h0M861.7 515.8h0M862.1 514.5h0M862.4 513.7h0M862.8 516.2h0M863.1 516.7h0M863.5 516.3h0M863.8 516.5h0M864.2 516.3h0M864.5 518.7h0M864.9 517.9h0M865.3 516.1h0M865.6 517.5h0M866.0 518.5h0M866.3 519.9h0M866.7 519.9h0M867.0 520.6h0M867.4 516.6h0M867.7 518.5h0M868.1 517.9h0M868.4 518.1h0M868.8 518.7h0M869.2 521.3h0M869.5 519.8h0M869.9 520.6h0M870.2 522.2h0M870.6 519.9h0M870.9 517.9h0M871.3 517.9h0M871.6 522.1h0M872.0 518.9h0M872.3 522.8h0M872.7 522.3h0M873.1 522.3h0M873.4 521.7h0M873.8 523.1h0M874.1 522.2h0M874.5 522.9h0M874.8 519.9h0M875.2 519.1h0M875.5 520.7h0M875.9 523.1h0M876.2 522.2h0M876.6 522.9h0M876.9 518.5h0M877.3 520.9h0M877.7 522.4h0M878.0 520.5h0M878.4 521.9h0M878.7 520.1h0M879.1 520.8h0M879.4 520.0h0M879.8 518.9h0M880.1 520.4h0M880.5 522.0h0M880.8 520.4h0M881.2 519.8h0M881.6 521.5h0M881.9 518.2h0M882.3 518.9h0M882.6 521.5h0M883.0 518.2h0M883.3 518.2h0M883.7 518.9h0M884.0 519.1h0M884.4 519.1h0M884.7 521.0h0M885.1 521.1h0M885.5 517.2h0M885.8 519.0h0M886.2 518.1h0M886.5 517.7h0M886.9 516.3h0M887.2 517.2h0M887.6 518.2h0M887.9 517.7h0M888.3 518.9h0M888.6 515.7h0M889.0 516.8h0M889.4 519.2h0M889.7 515.7h0M890.1 514.3h0M890.4 514.4h0M890.8 515.5h0M891.1 515.5h0M891.5 513.5h0M891.8 514.2h0M892.2 516.1h0M892.5 513.4h0M892.9 512.8h0M893.2 514.9h0M893.6 515.0h0M894.0 514.0h0M894.3 515.6h0M894.7 512.0h0M895.0 514.7h0M895.4 511.8h0M895.7 513.4h0M896.1 513.6h0M896.4 510.5h0M896.8 509.5h0M897.1 512.3h0M897.5 509.1h0M897.9 512.4h0M898.2 511.1h0M898.6 511.0h0M898.9 509.4h0M899.3 510.4h0M899.6 510.5h0M900.0 508.3h0M900.3 508.8h0M900.7 507.3h0M901.0 507.8h0M901.4 508.1h0M901.8 507.3h0M902.1 505.3h0M902.5 505.4h0M902.8 507.0h0M903.2 505.9h0M903.5 507.7h0M903.9 503.1h0M904.2 502.3h0M904.6 503.0h0M904.9 501.9h0M905.3 505.0h0M905.7 503.6h0M906.0 504.2h0M906.4 504.2h0M906.7 502.1h0M907.1 500.9h0M907.4 499.1h0M907.8 498.3h0M908.1 500.8h0M908.5 497.2h0M908.8 496.5h0M909.2 497.4h0M909.6 496.0h0M909.9 494.6h0M910.3 496.2h0M910.6 497.6h0M911.0 496.6h0M911.3 494.0h0M911.7 492.9h0M912.0 493.7h0M912.4 493.5h0M912.7 490.5h0M913.1 490.2h0M913.4 488.7h0M913.8 489.1h0M914.2 488.1h0M914.5 488.2h0M914.9 487.8h0M915.2 485.8h0M915.6 484.9h0M915.9 485.8h0M916.3 484.0h0M916.6 484.3h0M917.0 480.3h0M917.3 481.8h0M917.7 478.9h0M918.1 475.3h0M918.4 474.4h0M918.8 474.0h0M919.1 472.3h0M919.5 471.6h0M919.8 468.9h0M920.2 471.5h0M920.5 467.9h0M920.9 467.7h0M921.2 466.4h0M921.6 462.1h0M922.0 461.4h0M922.3 462.6h0M922.7 459.9h0M923.0 457.8h0M923.4 456.9h0M923.7 456.4h0M924.1 456.4h0M924.4 451.7h0M924.8 450.1h0M925.1 450.2h0M925.5 450.1h0M925.9 448.5h0M926.2 443.6h0M926.6 441.8h0M926.9 439.3h0M927.3 440.0h0M927.6 437.1h0M928.0 434.9h0M928.3 432.7h0M928.7 429.7h0M929.0 430.7h0M929.4 427.5h0M929.7 424.3h0M930.1 422.2h0M930.5 423.5h0M930.8 421.2h0M931.2 418.5h0M931.5 416.9h0M931.9 414.9h0M932.2 409.4h0M932.6 408.7h0M932.9 405.5h0M933.3 404.3h0M933.6 404.4h0M934.0 400.0h0M934.4 398.5h0M934.7 395.7h0M935.1 390.4h0M935.4 389.3h0M935.8 385.6h0M936.1 384.3h0M936.5 382.4h0M936.8 378.0h0M937.2 375.0h0M937.5 367.1h0M937.9 363.2h0M938.3 361.1h0M938.6 355.0h0M939.0 353.5h0M939.3 346.4h0M939.7 344.9h0M940.0 338.9h0M940.4 335.5h0M940.7 331.0h0M941.1 324.9h0M941.4 322.0h0M941.8 315.3h0M942.2 309.3h0M942.5 305.2h0M942.9 304.6h0M943.2 300.8h0M943.6 294.0h0M943.9 287.8h0M944.3 284.1h0M944.6 278.7h0M945.0 275.0h0M945.3 271.6h0M945.7 267.1h0M946.1 260.6h0M946.4 255.7h0M946.8 250.8h0M947.1 249.5h0M947.5 244.6h0M947.8 241.9h0M948.2 237.0h0M948.5 232.2h0M948.9 226.8h0M949.2 223.0h0M949.6 220.5h0M949.9 218.0h0M950.3 215.1h0M950.7 213.9h0M951.0 208.6h0M951.4 208.6h0M951.7 205.8h0M952.1 206.2h0M952.4 207.5h0M952.8 208.6h0M953.1 214.5h0M953.5 216.6h0M953.8 222.9h0M954.2 226.3h0M954.6 231.0h0M954.9 234.8h0M955.3 243.4h0M955.6 248.8h0M956.0 256.4h0M956.3 269.3h0M956.7 280.7h0M957.0 289.5h0M957.4 304.6h0M957.7 317.9h0M958.1 330.9h0M958.5 343.4h0M958.8 358.7h0M959.2 375.9h0M959.5 396.3h0M959.9 413.6h0M960.2 435.5h0M960.6 454.4h0M960.9 470.6h0M961.3 488.9h0M961.6 508.4h0M962.0 525.3h0M962.4 539.3h0M962.7 557.3h0M963.1 577.6h0M963.4 594.6h0M963.8 612.4h0M964.1 628.3h0M964.5 642.0h0M964.8 657.0h0M965.2 671.5h0M965.5 678.5h0M965.9 692.4h0M966.2 699.5h0M966.6 711.1h0M967.0 723.6h0M967.3 736.8h0M967.7 746.3h0M968.0 755.8h0M968.4 767.0h0M968.7 770.9h0M969.1 780.6h0M969.4 787.3h0M969.8 793.7h0M970.1 798.4h0M970.5 807.0h0M970.9 810.8h0M971.2 819.7h0M971.6 825.7h0M971.9 832.7h0M972.3 843.2h0M972.6 848.2h0M973.0 857.4h0M973.3 863.7h0M973.7 870.0h0M974.0 878.0h0M974.4 881.5h0M974.8 891.6h0M975.1 898.5h0M975.5 904.4h0M975.8 912.9h0M976.2 916.3h0M976.5 923.0h0M976.9 931.5h0M977.2 936.8h0M977.6 945.1h0M977.9 951.0h0M978.3 957.1h0M978.7 960.1h0M979.0 966.2h0M979.4 975.7h0M979.7 980.6h0M980.1 984.6h0M980.4 989.8h0M980.8 995.6h0M981.1 1001.3h0M981.5 1007.9h0M981.8 1012.3h0M982.2 1013.5h0M982.6 1019.5h0M982.9 1025.3h0M983.3 1029.9h0M983.6 1035.0h0M984.0 1038.3h0M984.3 1038.2h0M984.7 1043.6h0M985.0 1045.6h0M985.4 1050.4h0M985.7 1050.5h0M986.1 1056.6h0M986.4 1058.8h0M986.8 1062.7h0M987.2 1065.2h0M987.5 1066.8h0M987.9 1067.0h0M988.2 1067.8h0M988.6 1072.3h0M988.9 1073.2h0M989.3 1074.2h0M989.6 1072.4h0M990.0 1070.2h0M990.3 1071.6h0M990.7 1072.8h0M991.1 1067.5h0M991.4 1067.8h0M991.8 1066.3h0M992.1 1060.0h0M992.5 1060.4h0M992.8 1057.0h0M993.2 1049.7h0M993.5 1046.8h0M993.9 1045.8h0M994.2 1042.2h0M994.6 1039.7h0M995.0 1033.8h0M995.3 1030.0h0M995.7 1026.1h0M996.0 1020.0h0M996.4 1011.4h0M996.7 1008.8h0M997.1 1003.2h0M997.4 998.2h0M997.8 990.3h0M998.1 985.6h0M998.5 983.1h0M998.9 981.4h0M999.2 977.1h0M999.6 973.2h0M999.9 970.0h0M1000.3 966.1h0M1000.6 962.9h0M1001.0 958.0h0M1001.3 957.6h0M1001.7 954.2h0M1002.0 948.1h0M1002.4 948.0h0M1002.8 943.3h0M1003.1 940.6h0M1003.5 937.7h0M1003.8 932.9h0M1004.2 933.2h0M1004.5 931.7h0M1004.9 928.8h0M1005.2 921.9h0M1005.6 921.2h0M1005.9 919.6h0M1006.3 916.2h0M1006.6 914.3h0M1007.0 909.4h0M1007.4 909.4h0M1007.7 904.4h0M1008.1 901.0h0M1008.4 900.8h0M1008.8 894.9h0M1009.1 895.7h0M1009.5 890.2h0M1009.8 891.2h0M1010.2 888.8h0M1010.5 885.5h0M1010.9 884.1h0M1011.3 885.5h0M1011.6 882.8h0M1012.0 880.6h0M1012.3 879.4h0M1012.7 877.3h0M1013.0 877.7h0M1013.4 873.3h0M1013.7 874.4h0M1014.1 871.6h0M1014.4 869.4h0M1014.8 870.8h0M1015.2 867.2h0M1015.5 865.5h0M1015.9 867.1h0M1016.2 863.9h0M1016.6 862.9h0M1016.9 859.8h0M1017.3 859.5h0M1017.6 860.4h0M1018.0 858.0h0M1018.3 858.3h0M1018.7 858.2h0M1019.1 857.2h0M1019.4 856.4h0M1019.8 854.1h0M1020.1 853.0h0M1020.5 854.3h0M1020.8 853.5h0M1021.2 851.0h0M1021.5 849.6h0M1021.9 849.1h0M1022.2 849.6h0M1022.6 848.8h0M1022.9 846.0h0M1023.3 845.9h0M1023.7 844.5h0M1024.0 841.3h0M1024.4 844.4h0M1024.7 840.1h0M1025.1 839.1h0M1025.4 841.5h0M1025.8 838.4h0M1026.1 839.5h0M1026.5 838.4h0M1026.8 837.4h0M1027.2 835.0h0M1027.6 837.0h0M1027.9 834.1h0M1028.3 833.9h0M1028.6 831.1h0M1029.0 830.6h0M1029.3 829.3h0M1029.7 827.9h0M1030.0 829.3h0M1030.4 831.0h0M1030.7 825.9h0M1031.1 829.3h0M1031.5 824.5h0M1031.8 824.5h0M1032.2 826.8h0M1032.5 825.4h0M1032.9 823.8h0M1033.2 823.9h0M1033.6 821.6h0M1033.9 824.7h0M1034.3 821.6h0M1034.6 823.2h0M1035.0 821.2h0M1035.4 819.1h0M1035.7 818.3h0M1036.1 821.2h0M1036.4 818.0h0M1036.8 820.7h0M1037.1 816.5h0M1037.5 818.4h0M1037.8 818.9h0M1038.2 816.4h0M1038.5 818.9h0M1038.9 814.5h0M1039.3 813.7h0M1039.6 813.1h0M1040.0 815.7h0M1040.3 815.9h0M1040.7 812.2h0M1041.0 811.9h0M1041.4 811.6h0M1041.7 811.3h0M1042.1 812.3h0M1042.4 815.1h0M1042.8 811.2h0M1043.1 809.9h0M1043.5 813.2h0M1043.9 812.7h0M1044.2 812.3h0M1044.6 809.6h0M1044.9 810.1h0M1045.3 812.6h0M1045.6 810.0h0M1046.0 810.8h0M1046.3 808.4h0M1046.7 808.9h0M1047.0 810.1h0M1047.4 810.7h0M1047.8 811.0h0M1048.1 807.7h0M1048.5 808.0h0M1048.8 809.4h0M1049.2 806.5h0M1049.5 810.2h0M1049.9 806.3h0M1050.2 809.5h0M1050.6 806.9h0M1050.9 808.8h0M1051.3 809.5h0M1051.7 808.4h0M1052.0 806.1h0M1052.4 806.4h0M1052.7 806.0h0M1053.1 808.1h0M1053.4 805.4h0M1053.8 808.9h0M1054.1 808.3h0M1054.5 804.5h0M1054.8 806.4h0M1055.2 805.2h0M1055.6 805.9h0M1055.9 807.6h0M1056.3 807.2h0M1056.6 805.2h0M1057.0 806.3h0M1057.3 804.9h0M1057.7 804.2h0M1058.0 806.2h0M1058.4 804.3h0M1058.7 805.6h0M1059.1 803.5h0M1059.4 805.9h0M1059.8 803.4h0M1060.2 805.5h0M1060.5 804.4h0M1060.9 804.2h0M1061.2 804.0h0M1061.6 806.4h0M1061.9 807.7h0M1062.3 808.2h0M1062.6 803.8h0M1063.0 807.4h0M1063.3 804.3h0M1063.7 806.1h0M1064.1 806.3h0M1064.4 803.9h0M1064.8 806.0h0M1065.1 808.4h0M1065.5 804.8h0M1065.8 808.4h0M1066.2 806.2h0M1066.5 805.0h0M1066.9 806.7h0M1067.2 804.7h0M1067.6 808.7h0M1068.0 807.7h0M1068.3 805.0h0M1068.7 805.4h0M1069.0 807.0h0M1069.4 808.2h0M1069.7 809.1h0M1070.1 805.7h0M1070.4 808.8h0M1070.8 806.6h0M1071.1 808.2h0M1071.5 807.3h0M1071.9 809.6h0M1072.2 807.7h0M1072.6 806.5h0M1072.9 808.7h0M1073.3 808.3h0M1073.6 810.0h0M1074.0 806.7h0M1074.3 807.7h0M1074.7 810.8h0M1075.0 807.0h0M1075.4 807.6h0M1075.8 809.2h0M1076.1 808.0h0M1076.5 808.4h0M1076.8 809.2h0M1077.2 809.1h0M1077.5 813.3h0M1077.9 812.8h0M1078.2 810.7h0M1078.6 810.6h0M1078.9 814.0h0M1079.3 812.9h0M1079.6 813.9h0M1080.0 811.6h0M1080.4 814.2h0M1080.7 813.1h0M1081.1 813.7h0M1081.4 815.8h0M1081.8 812.9h0M1082.1 814.1h0M1082.5 817.2h0M1082.8 817.1h0M1083.2 818.6h0M1083.5 815.3h0M1083.9 819.3h0M1084.3 815.8h0M1084.6 819.5h0M1085.0 818.4h0M1085.3 820.3h0M1085.7 818.9h0M1086.0 819.3h0M1086.4 818.8h0M1086.7 821.4h0M1087.1 823.0h0M1087.4 821.5h0M1087.8 825.3h0M1088.2 822.9h0M1088.5 826.3h0M1088.9 822.8h0M1089.2 823.4h0M1089.6 824.7h0M1089.9 826.1h0M1090.3 829.5h0M1090.6 829.4h0M1091.0 826.5h0M1091.3 831.5h0M1091.7 830.8h0M1092.1 832.8h0M1092.4 831.1h0M1092.8 831.4h0M1093.1 834.8h0M1093.5 835.6h0M1093.8 835.4h0M1094.2 834.6h0M1094.5 836.5h0M1094.9 838.0h0M1095.2 839.8h0M1095.6 837.0h0M1095.9 837.2h0M1096.3 841.1h0M1096.7 838.8h0M1097.0 843.5h0M1097.4 842.9h0M1097.7 843.5h0M1098.1 842.3h0M1098.4 846.8h0M1098.8 844.8h0M1099.1 848.7h0M1099.5 849.8h0M1099.8 851.5h0M1100.2 851.7h0M1100.6 853.6h0M1100.9 850.5h0M1101.3 855.9h0M1101.6 852.7h0M1102.0 855.1h0M1102.3 858.4h0M1102.7 858.3h0M1103.0 858.7h0M1103.4 859.2h0M1103.7 861.7h0M1104.1 864.1h0M1104.5 865.2h0M1104.8 865.3h0M1105.2 866.2h0M1105.5 865.9h0M1105.9 871.2h0M1106.2 871.9h0M1106.6 872.5h0M1106.9 872.6h0M1107.3 876.1h0M1107.6 877.2h0M1108.0 876.2h0M1108.4 882.6h0M1108.7 883.9h0M1109.1 884.9h0M1109.4 884.3h0M1109.8 888.2h0M1110.1 889.2h0M1110.5 889.6h0M1110.8 892.2h0M1111.2 894.9h0M1111.5 893.9h0M1111.9 898.1h0M1112.3 902.1h0M1112.6 900.5h0M1113.0 902.0h0M1113.3 907.6h0M1113.7 908.1h0M1114.0 912.6h0M1114.4 913.6h0M1114.7 912.4h0M1115.1 917.3h0M1115.4 919.7h0M1115.8 922.7h0M1116.1 925.2h0M1116.5 927.8h0M1116.9 930.4h0M1117.2 928.7h0M1117.6 931.8h0M1117.9 937.0h0M1118.3 938.9h0M1118.6 936.8h0M1119.0 940.0h0M1119.3 945.4h0M1119.7 943.7h0M1120.0 947.9h0M1120.4 951.4h0M1120.8 955.2h0M1121.1 957.9h0M1121.5 959.2h0M1121.8 962.5h0M1122.2 963.7h0M1122.5 965.8h0M1122.9 969.2h0M1123.2 972.3h0M1123.6 972.1h0M1123.9 976.7h0M1124.3 977.3h0M1124.7 983.5h0M1125.0 986.7h0M1125.4 988.2h0M1125.7 995.1h0M1126.1 995.3h0M1126.4 1003.3h0M1126.8 1005.2h0M1127.1 1012.0h0M1127.5 1015.1h0M1127.8 1022.1h0M1128.2 1024.5h0M1128.6 1030.8h0M1128.9 1032.8h0M1129.3 1037.6h0M1129.6 1041.9h0M1130.0 1039.5h0M1130.3 1045.1h0M1130.7 1046.1h0M1131.0 1041.3h0M1131.4 1040.6h0M1131.7 1042.5h0M1132.1 1039.1h0M1132.4 1034.8h0M1132.8 1033.5h0M1133.2 1028.2h0M1133.5 1021.6h0M1133.9 1018.9h0M1134.2 1015.9h0M1134.6 1014.6h0M1134.9 1008.7h0M1135.3 1003.0h0M1135.6 999.0h0M1136.0 995.9h0M1136.3 991.4h0M1136.7 986.7h0M1137.1 985.4h0M1137.4 980.3h0M1137.8 972.2h0M1138.1 967.8h0M1138.5 961.1h0M1138.8 958.4h0M1139.2 951.5h0M1139.5 946.5h0M1139.9 939.5h0M1140.2 937.0h0M1140.6 929.3h0M1141.0 921.6h0M1141.3 919.6h0M1141.7 912.0h0M1142.0 905.8h0M1142.4 899.3h0M1142.7 892.0h0M1143.1 886.7h0M1143.4 879.1h0M1143.8 873.8h0M1144.1 868.6h0M1144.5 859.6h0M1144.9 855.2h0M1145.2 850.1h0M1145.6 843.4h0M1145.9 834.5h0M1146.3 828.4h0M1146.6 824.1h0M1147.0 820.1h0M1147.3 813.2h0M1147.7 805.1h0M1148.0 802.2h0M1148.4 796.0h0M1148.8 789.6h0M1149.1 782.8h0M1149.5 777.5h0M1149.8 770.3h0M1150.2 764.1h0M1150.5 754.9h0M1150.9 748.9h0M1151.2 740.9h0M1151.6 732.4h0M1151.9 723.3h0M1152.3 714.6h0M1152.6 704.5h0M1153.0 697.1h0M1153.4 687.1h0M1153.7 674.8h0M1154.1 663.0h0M1154.4 647.1h0M1154.8 634.6h0M1155.1 611.0h0M1155.5 594.5h0M1155.8 573.9h0M1156.2 554.9h0M1156.5 537.0h0M1156.9 521.7h0M1157.3 500.8h0M1157.6 486.5h0M1158.0 466.8h0M1158.3 445.8h0M1158.7 428.8h0M1159.0 412.4h0M1159.4 394.4h0M1159.7 373.9h0M1160.1 355.2h0M1160.4 335.3h0M1160.8 324.9h0M1161.2 308.5h0M1161.5 295.4h0M1161.9 285.5h0M1162.2 270.7h0M1162.6 258.7h0M1162.9 250.4h0M1163.3 241.1h0M1163.6 231.4h0M1164.0 222.7h0M1164.3 215.2h0M1164.7 209.4h0M1165.1 202.6h0M1165.4 200.4h0M1165.8 192.6h0M1166.1 190.6h0M1166.5 188.8h0M1166.8 184.6h0M1167.2 179.9h0M1167.5 176.4h0M1167.9 177.9h0M1168.2 173.6h0M1168.6 178.9h0M1168.9 177.6h0M1169.3 185.7h0M1169.7 188.9h0M1170.0 193.8h0M1170.4 201.9h0M1170.7 205.8h0M1171.1 211.9h0M1171.4 213.0h0M1171.8 219.6h0M1172.1 223.8h0M1172.5 229.7h0M1172.8 232.9h0M1173.2 239.8h0M1173.6 245.8h0M1173.9 249.5h0M1174.3 255.4h0M1174.6 261.5h0M1175.0 268.8h0M1175.3 269.4h0M1175.7 278.9h0M1176.0 282.3h0M1176.4 285.3h0M1176.7 292.8h0M1177.1 297.1h0M1177.5 302.6h0M1177.8 307.5h0M1178.2 309.7h0M1178.5 316.1h0M1178.9 321.7h0M1179.2 322.2h0M1179.6 330.0h0M1179.9 333.6h0M1180.3 337.5h0M1180.6 341.8h0M1181.0 347.5h0M1181.4 350.8h0M1181.7 353.8h0M1182.1 359.3h0M1182.4 364.2h0M1182.8 368.2h0M1183.1 371.4h0M1183.5 374.2h0M1183.8 375.6h0M1184.2 380.3h0M1184.5 382.7h0M1184.9 386.4h0M1185.3 390.8h0M1185.6 390.6h0M1186.0 397.8h0M1186.3 399.1h0M1186.7 402.2h0M1187.0 405.2h0M1187.4 408.7h0M1187.7 409.3h0M1188.1 409.0h0M1188.4 412.6h0M1188.8 417.7h0M1189.1 416.3h0M1189.5 418.8h0M1189.9 420.2h0M1190.2 425.5h0M1190.6 424.5h0M1190.9 430.3h0M1191.3 430.7h0M1191.6 431.8h0M1192.0 433.9h0M1192.3 434.7h0M1192.7 435.9h0M1193.0 439.4h0M1193.4 442.0h0M1193.8 443.8h0M1194.1 443.5h0M1194.5 442.5h0M1194.8 445.5h0M1195.2 448.1h0M1195.5 447.5h0M1195.9 448.3h0M1196.2 449.6h0M1196.6 455.2h0M1196.9 456.4h0M1197.3 457.9h0M1197.7 455.5h0M1198.0 457.3h0M1198.4 460.6h0M1198.7 461.5h0M1199.1 463.7h0M1199.4 463.5h0M1199.8 465.7h0M1200.1 468.6h0M1200.5 471.1h0M1200.8 470.5h0M1201.2 474.4h0M1201.6 473.3h0M1201.9 475.7h0M1202.3 476.0h0M1202.6 478.7h0M1203.0 479.0h0M1203.3 478.3h0M1203.7 483.4h0M1204.0 484.7h0M1204.4 485.5h0M1204.7 486.7h0M1205.1 484.1h0M1205.4 488.5h0M1205.8 487.0h0M1206.2 487.6h0M1206.5 489.8h0M1206.9 489.3h0M1207.2 493.0h0M1207.6 493.9h0M1207.9 493.5h0M1208.3 495.4h0M1208.6 493.5h0M1209.0 495.4h0M1209.3 495.0h0M1209.7 496.2h0M1210.1 497.0h0M1210.4 498.8h0M1210.8 496.3h0M1211.1 501.4h0M1211.5 499.1h0M1211.8 498.6h0M1212.2 499.5h0M1212.5 503.3h0M1212.9 500.1h0M1213.2 500.9h0M1213.6 501.2h0M1214.0 502.9h0M1214.3 502.2h0M1214.7 503.0h0M1215.0 502.7h0M1215.4 505.0h0M1215.7 504.4h0M1216.1 507.6h0M1216.4 504.9h0M1216.8 507.6h0M1217.1 507.3h0M1217.5 510.3h0M1217.9 510.4h0M1218.2 509.0h0M1218.6 508.6h0M1218.9 508.1h0M1219.3 508.5h0M1219.6 510.3h0M1220.0 509.8h0M1220.3 513.4h0M1220.7 511.3h0M1221.0 511.9h0M1221.4 511.2h0M1221.8 512.6h0M1222.1 515.1h0M1222.5 512.6h0M1222.8 512.5h0M1223.2 513.5h0M1223.5 512.5h0M1223.9 513.7h0M1224.2 515.6h0M1224.6 515.6h0M1224.9 517.1h0M1225.3 515.5h0M1225.6 518.4h0M1226.0 516.4h0M1226.4 514.7h0M1226.7 516.5h0M1227.1 517.2h0M1227.4 518.6h0M1227.8 519.6h0M1228.1 519.0h0M1228.5 516.3h0M1228.8 518.2h0M1229.2 520.2h0M1229.5 518.2h0M1229.9 517.5h0M1230.3 519.0h0M1230.6 518.7h0M1231.0 521.0h0M1231.3 520.8h0M1231.7 518.9h0M1232.0 520.1h0M1232.4 519.8h0M1232.7 517.3h0M1233.1 521.7h0M1233.4 522.3h0M1233.8 521.3h0M1234.2 519.1h0M1234.5 521.7h0M1234.9 521.3h0M1235.2 520.3h0M1235.6 521.2h0M1235.9 519.9h0M1236.3 519.8h0M1236.6 521.3h0M1237.0 521.2h0M1237.3 518.5h0M1237.7 520.9h0M1238.1 519.5h0M1238.4 518.5h0M1238.8 522.8h0M1239.1 522.8h0M1239.5 522.5h0M1239.8 522.8h0M1240.2 519.7h0M1240.5 522.1h0M1240.9 522.9h0M1241.2 521.5h0M1241.6 519.2h0M1241.9 521.4h0M1242.3 520.6h0M1242.7 521.7h0M1243.0 517.9h0M1243.4 519.9h0M1243.7 521.2h0M1244.1 521.6h0M1244.4 521.7h0M1244.8 521.0h0M1245.1 517.9h0M1245.5 521.6h0M1245.8 517.8h0M1246.2 517.3h0M1246.6 520.6h0M1246.9 521.5h0M1247.3 520.4h0M1247.6 521.3h0M1248.0 518.2h0M1248.3 518.5h0M1248.7 519.4h0M1249.0 516.2h0M1249.4 516.1h0M1249.7 517.6h0M1250.1 517.3h0M1250.5 515.6h0M1250.8 517.4h0M1251.2 516.3h0M1251.5 517.1h0M1251.9 517.8h0M1252.2 515.5h0M1252.6 516.1h0M1252.9 519.2h0M1253.3 518.5h0M1253.6 517.7h0M1254.0 517.6h0M1254.4 517.2h0M1254.7 517.6h0M1255.1 513.3h0M1255.4 515.7h0M1255.8 515.0h0M1256.1 513.3h0M1256.5 516.7h0M1256.8 516.1h0M1257.2 512.7h0M1257.5 513.9h0M1257.9 514.9h0M1258.3 511.8h0M1258.6 513.6h0M1259.0 514.4h0M1259.3 514.1h0M1259.7 511.9h0M1260.0 513.3h0M1260.4 513.1h0M1260.7 510.4h0M1261.1 510.3h0M1261.4 511.8h0M1261.8 511.6h0M1262.1 510.4h0M1262.5 511.6h0M1262.9 510.7h0M1263.2 508.2h0M1263.6 509.5h0M1263.9 508.5h0M1264.3 506.4h0M1264.6 505.8h0M1265.0 509.2h0M1265.3 505.4h0M1265.7 503.9h0M1266.0 507.6h0M1266.4 507.4h0M1266.8 503.3h0M1267.1 503.9h0M1267.5 506.2h0M1267.8 501.9h0M1268.2 504.4h0M1268.5 501.4h0M1268.9 500.1h0M1269.2 504.3h0M1269.6 499.8h0M1269.9 499.8h0M1270.3 500.5h0M1270.7 499.5h0M1271.0 498.5h0M1271.4 497.7h0M1271.7 500.0h0M1272.1 497.1h0M1272.4 499.9h0M1272.8 495.7h0M1273.1 494.9h0M1273.5 495.4h0M1273.8 493.9h0M1274.2 496.5h0M1274.6 493.2h0M1274.9 495.2h0M1275.3 491.4h0M1275.6 489.5h0M1276.0 490.3h0M1276.3 492.8h0M1276.7 487.9h0M1277.0 488.0h0M1277.4 489.8h0M1277.7 488.8h0M1278.1 488.5h0M1278.5 484.1h0M1278.8 483.4h0M1279.2 485.3h0M1279.5 481.6h0M1279.9 481.1h0M1280.2 478.5h0M1280.6 480.2h0M1280.9 479.1h0M1281.3 478.1h0M1281.6 474.5h0M1282.0 472.2h0M1282.3 474.0h0M1282.7 470.7h0M1283.1 469.8h0M1283.4 468.4h0M1283.8 468.5h0M1284.1 466.5h0M1284.5 463.7h0M1284.8 465.0h0M1285.2 461.0h0M1285.5 462.0h0M1285.9 461.0h0M1286.2 458.9h0M1286.6 455.5h0M1287.0 454.4h0M1287.3 455.0h0M1287.7 449.2h0M1288.0 451.7h0M1288.4 449.0h0M1288.7 446.2h0M1289.1 443.7h0M1289.4 441.0h0M1289.8 438.8h0M1290.1 441.2h0M1290.5 436.0h0M1290.9 437.0h0M1291.2 432.1h0M1291.6 434.2h0M1291.9 429.5h0M1292.3 426.0h0M1292.6 427.5h0M1293.0 421.6h0M1293.3 419.6h0M1293.7 420.3h0M1294.0 419.4h0M1294.4 414.4h0M1294.8 413.4h0M1295.1 413.3h0M1295.5 407.8h0M1295.8 404.7h0M1296.2 404.1h0M1296.5 402.3h0M1296.9 400.4h0M1297.2 396.1h0M1297.6 392.3h0M1297.9 392.1h0M1298.3 389.3h0M1298.6 383.9h0M1299.0 380.7h0M1299.4 380.3h0M1299.7 378.8h0M1300.1 370.8h0M1300.4 368.3h0M1300.8 364.7h0M1301.1 359.6h0M1301.5 358.1h0M1301.8 350.5h0M1302.2 347.6h0M1302.5 342.9h0M1302.9 340.3h0M1303.3 335.7h0M1303.6 331.3h0M1304.0 322.8h0M1304.3 318.7h0M1304.7 314.3h0M1305.0 308.5h0M1305.4 307.9h0M1305.7 299.9h0M1306.1 297.6h0M1306.4 292.9h0M1306.8 290.0h0M1307.2 284.3h0M1307.5 277.2h0M1307.9 273.7h0M1308.2 266.7h0M1308.6 265.4h0M1308.9 259.7h0M1309.3 253.4h0M1309.6 252.0h0M1310.0 243.6h0M1310.3 240.6h0M1310.7 237.5h0M1311.1 231.0h0M1311.4 226.9h0M1311.8 223.6h0M1312.1 221.0h0M1312.5 219.1h0M1312.8 215.4h0M1313.2 210.3h0M1313.5 207.3h0M1313.9 206.7h0M1314.2 204.4h0M1314.6 201.4h0M1315.0 202.6h0M1315.3 201.9h0M1315.7 208.4h0M1316.0 208.1h0M1316.4 212.4h0M1316.7 217.9h0M1317.1 222.1h0M1317.4 229.4h0M1317.8 236.1h0M1318.1 241.0h0M1318.5 248.1h0M1318.8 257.4h0M1319.2 267.0h0M1319.6 276.1h0M1319.9 290.1h0M1320.3 302.7h0M1320.6 312.9h0M1321.0 331.0h0M1321.3 342.5h0M1321.7 360.5h0M1322.0 375.4h0M1322.4 392.6h0M1322.7 415.9h0M1323.1 433.7h0M1323.5 453.1h0M1323.8 470.2h0M1324.2 487.4h0M1324.5 508.2h0M1324.9 525.9h0M1325.2 539.9h0M1325.6 558.2h0M1325.9 576.8h0M1326.3 594.5h0M1326.6 609.4h0M1327.0 628.0h0M1327.4 645.6h0M1327.7 657.9h0M1328.1 668.9h0M1328.4 680.5h0M1328.8 692.4h0M1329.1 700.0h0M1329.5 713.8h0M1329.8 722.1h0M1330.2 736.2h0M1330.5 745.2h0M1330.9 755.2h0M1331.3 765.9h0M1331.6 771.2h0M1332.0 780.0h0M1332.3 787.5h0M1332.7 792.0h0M1333.0 798.4h0M1333.4 805.6h0M1333.7 813.3h0M1334.1 819.3h0M1334.4 827.8h0M1334.8 832.5h0M1335.1 840.2h0M1335.5 849.7h0M1335.9 858.1h0M1336.2 862.4h0M1336.6 868.6h0M1336.9 878.6h0M1337.3 882.2h0M1337.6 889.8h0M1338.0 895.9h0M1338.3 906.3h0M1338.7 909.8h0M1339.0 920.8h0M1339.4 927.5h0M1339.8 933.4h0M1340.1 937.8h0M1340.5 944.9h0M1340.8 952.3h0M1341.2 957.9h0M1341.5 961.9h0M1341.9 968.7h0M1342.2 975.5h0M1342.6 977.6h0M1342.9 983.4h0M1343.3 990.8h0M1343.7 994.0h0M1344.0 1000.3h0M1344.4 1008.6h0M1344.7 1009.9h0M1345.1 1015.7h0M1345.4 1020.2h0M1345.8 1025.4h0M1346.1 1029.0h0M1346.5 1031.1h0M1346.8 1038.7h0M1347.2 1043.1h0M1347.6 1043.1h0M1347.9 1049.0h0M1348.3 1049.8h0M1348.6 1053.7h0M1349.0 1057.2h0M1349.3 1059.8h0M1349.7 1063.0h0M1350.0 1063.3h0M1350.4 1067.1h0M1350.7 1068.2h0M1351.1 1068.7h0M1351.5 1072.1h0M1351.8 1070.5h0M1352.2 1072.5h0M1352.5 1071.5h0M1352.9 1072.9h0M1353.2 1073.7h0M1353.6 1072.0h0M1353.9 1068.8h0M1354.3 1066.4h0M1354.6 1064.9h0M1355.0 1060.1h0M1355.3 1059.8h0M1355.7 1054.4h0M1356.1 1051.3h0M1356.4 1047.8h0M1356.8 1048.0h0M1357.1 1040.0h0M1357.5 1037.9h0M1357.8 1035.6h0M1358.2 1028.1h0M1358.5 1024.6h0M1358.9 1017.2h0M1359.2 1011.2h0M1359.6 1008.5h0M1360.0 1003.0h0M1360.3 994.4h0M1360.7 989.9h0M1361.0 985.9h0M1361.4 985.1h0M1361.7 979.4h0M1362.1 974.6h0M1362.4 970.4h0M1362.8 969.5h0M1363.1 964.2h0M1363.5 964.3h0M1363.9 960.9h0M1364.2 954.9h0M1364.6 954.2h0M1364.9 949.4h0M1365.3 945.6h0M1365.6 945.3h0M1366.0 939.7h0M1366.3 939.8h0M1366.7 936.8h0M1367.0 930.6h0M1367.4 932.1h0M1367.8 925.0h0M1368.1 923.8h0M1368.5 920.2h0M1368.8 920.1h0M1369.2 917.5h0M1369.5 914.6h0M1369.9 910.2h0M1370.2 907.7h0M1370.6 903.2h0M1370.9 902.8h0M1371.3 900.6h0M1371.6 897.0h0M1372.0 893.4h0M1372.4 892.6h0M1372.7 889.7h0M1373.1 886.3h0M1373.4 887.9h0M1373.8 884.2h0M1374.1 883.2h0M1374.5 882.1h0M1374.8 879.7h0M1375.2 880.0h0M1375.5 876.3h0M1375.9 873.6h0M1376.3 872.4h0M1376.6 874.1h0M1377.0 872.0h0M1377.3 868.1h0M1377.7 867.8h0M1378.0 869.4h0M1378.4 865.8h0M1378.7 864.7h0M1379.1 864.7h0M1379.4 863.6h0M1379.8 860.1h0M1380.2 860.8h0M1380.5 861.0h0M1380.9 859.1h0M1381.2 858.4h0M1381.6 854.8h0M1381.9 858.2h0M1382.3 853.4h0M1382.6 852.7h0M1383.0 850.8h0M1383.3 853.4h0M1383.7 849.0h0M1384.1 849.8h0M1384.4 851.3h0M1384.8 847.8h0M1385.1 846.2h0M1385.5 846.4h0M1385.8 843.2h0M1386.2 845.1h0M1386.5 845.1h0M1386.9 842.3h0M1387.2 842.9h0M1387.6 841.7h0M1388.0 841.9h0M1388.3 837.8h0M1388.7 839.4h0M1389.0 838.6h0M1389.4 839.1h0M1389.7 834.7h0M1390.1 833.9h0M1390.4 833.3h0M1390.8 832.0h0M1391.1 835.2h0M1391.5 834.3h0M1391.8 833.7h0M1392.2 830.6h0M1392.6 827.7h0M1392.9 829.3h0M1393.3 826.3h0M1393.6 829.7h0M1394.0 825.8h0M1394.3 827.6h0M1394.7 827.3h0M1395.0 824.1h0M1395.4 824.5h0M1395.7 825.3h0M1396.1 824.5h0M1396.5 821.6h0M1396.8 821.0h0M1397.2 820.4h0M1397.5 823.6h0M1397.9 818.8h0M1398.2 818.9h0M1398.6 821.1h0M1398.9 820.9h0M1399.3 818.1h0M1399.6 820.6h0M1400.0 815.7h0M1400.4 818.5h0M1400.7 817.4h0M1401.1 816.7h0M1401.4 818.6h0M1401.8 815.3h0M1402.1 813.5h0M1402.5 814.8h0M1402.8 813.1h0M1403.2 813.1h0M1403.5 812.2h0M1403.9 815.6h0M1404.3 815.5h0M1404.6 812.9h0M1405.0 814.3h0M1405.3 810.6h0M1405.7 811.4h0M1406.0 813.3h0M1406.4 810.5h0M1406.7 809.4h0M1407.1 809.3h0M1407.4 808.6h0M1407.8 812.3h0M1408.1 809.4h0M1408.5 811.1h0M1408.9 808.7h0M1409.2 808.2h0M1409.6 811.6h0M1409.9 810.2h0M1410.3 810.1h0M1410.6 808.4h0M1411.0 808.8h0M1411.3 806.2h0M1411.7 809.0h0M1412.0 808.7h0M1412.4 806.8h0M1412.8 810.4h0M1413.1 809.4h0M1413.5 808.4h0M1413.8 808.8h0M1414.2 808.7h0M1414.5 807.8h0M1414.9 807.5h0M1415.2 809.6h0M1415.6 806.9h0M1415.9 806.2h0M1416.3 809.2h0M1416.7 806.8h0M1417.0 807.5h0M1417.4 807.0h0M1417.7 807.2h0M1418.1 806.6h0M1418.4 805.0h0M1418.8 806.6h0M1419.1 805.2h0M1419.5 808.2h0M1419.8 806.8h0M1420.2 806.4h0M1420.6 808.3h0M1420.9 805.3h0M1421.3 808.0h0M1421.6 803.5h0M1422.0 806.0h0M1422.3 803.4h0M1422.7 807.5h0M1423.0 804.5h0M1423.4 804.0h0M1423.7 805.0h0M1424.1 807.0h0M1424.5 807.5h0M1424.8 805.1h0M1425.2 804.0h0M1425.5 807.1h0M1425.9 806.2h0M1426.2 804.5h0M1426.6 806.4h0M1426.9 807.1h0M1427.3 808.1h0M1427.6 806.6h0M1428.0 808.1h0M1428.3 804.4h0M1428.7 807.9h0M1429.1 804.9h0M1429.4 804.1h0M1429.8 804.6h0M1430.1 808.3h0M1430.5 808.0h0M1430.8 807.6h0M1431.2 808.1h0M1431.5 809.4h0M1431.9 807.1h0M1432.2 806.3h0M1432.6 807.9h0M1433.0 809.3h0M1433.3 805.7h0M1433.7 807.0h0M1434.0 809.9h0M1434.4 807.0h0M1434.7 809.3h0M1435.1 807.8h0M1435.4 807.2h0M1435.8 809.3h0M1436.1 810.6h0M1436.5 807.5h0M1436.9 810.0h0M1437.2 809.7h0M1437.6 810.2h0M1437.9 807.1h0M1438.3 810.1h0M1438.6 808.9h0M1439.0 807.7h0M1439.3 809.1h0M1439.7 812.8h0M1440.0 811.3h0M1440.4 810.3h0M1440.8 811.9h0M1441.1 811.7h0M1441.5 810.4h0M1441.8 812.2h0M1442.2 814.1h0M1442.5 814.9h0M1442.9 812.4h0M1443.2 813.4h0M1443.6 814.6h0M1443.9 813.9h0M1444.3 815.9h0M1444.6 817.5h0M1445.0 818.0h0M1445.4 817.2h0M1445.7 818.2h0M1446.1 818.1h0M1446.4 816.6h0M1446.8 818.6h0M1447.1 820.4h0M1447.5 817.6h0M1447.8 817.9h0M1448.2 821.1h0M1448.5 819.9h0M1448.9 821.2h0M1449.3 819.3h0M1449.6 823.7h0M1450.0 820.7h0M1450.3 823.4h0M1450.7 822.9h0M1451.0 821.6h0M1451.4 825.4h0M1451.7 823.0h0M1452.1 826.7h0M1452.4 824.2h0M1452.8 828.7h0M1453.2 826.3h0M1453.5 827.1h0M1453.9 826.7h0M1454.2 826.8h0M1454.6 830.9h0M1454.9 831.0h0M1455.3 831.4h0M1455.6 832.5h0M1456.0 832.6h0M1456.3 834.7h0M1456.7 836.7h0M1457.1 837.0h0M1457.4 835.7h0M1457.8 837.3h0M1458.1 838.8h0M1458.5 838.5h0M1458.8 841.7h0M1459.2 839.4h0M1459.5 838.8h0M1459.9 839.6h0M1460.2 840.6h0M1460.6 843.0h0M1461.0 845.4h0M1461.3 843.4h0M1461.7 845.1h0M1462.0 845.7h0M1462.4 848.7h0M1462.7 851.7h0M1463.1 849.9h0M1463.4 852.6h0M1463.8 854.6h0M1464.1 854.7h0M1464.5 854.8h0M1464.8 856.9h0M1465.2 855.8h0M1465.6 858.9h0M1465.9 860.6h0M1466.3 860.0h0M1466.6 863.5h0M1467.0 861.8h0M1467.3 864.4h0M1467.7 862.9h0M1468.0 868.6h0M1468.4 869.1h0M1468.7 869.2h0M1469.1 871.9h0M1469.5 873.8h0M1469.8 873.1h0M1470.2 873.6h0M1470.5 876.4h0M1470.9 877.1h0M1471.2 878.0h0M1471.6 880.5h0M1471.9 882.6h0M1472.3 886.7h0M1472.6 889.2h0M1473.0 889.7h0M1473.4 888.7h0M1473.7 892.2h0M1474.1 893.2h0M1474.4 894.8h0M1474.8 898.7h0M1475.1 898.9h0M1475.5 903.6h0M1475.8 903.2h0M1476.2 907.5h0M1476.5 909.4h0M1476.9 909.5h0M1477.3 914.1h0M1477.6 917.8h0M1478.0 916.1h0M1478.3 918.7h0M1478.7 920.0h0M1479.0 925.0h0M1479.4 928.9h0M1479.7 929.5h0M1480.1 930.8h0M1480.4 935.4h0M1480.8 934.3h0M1481.1 937.2h0M1481.5 938.9h0M1481.9 941.7h0M1482.2 943.8h0M1482.6 949.8h0M1482.9 949.0h0M1483.3 952.8h0M1483.6 953.8h0M1484.0 958.9h0M1484.3 962.3h0M1484.7 963.9h0M1485.0 965.2h0M1485.4 967.4h0M1485.8 970.2h0M1486.1 975.3h0M1486.5 975.5h0M1486.8 979.5h0M1487.2 981.8h0M1487.5 987.3h0M1487.9 990.1h0M1488.2 993.6h0M1488.6 995.1h0M1488.9 999.9h0M1489.3 1005.5h0M1489.7 1008.7h0M1490.0 1013.6h0M1490.4 1021.5h0M1490.7 1026.2h0M1491.1 1027.2h0M1491.4 1035.8h0M1491.8 1035.9h0M1492.1 1039.8h0M1492.5 1044.1h0M1492.8 1045.5h0M1493.2 1049.0h0M1493.6 1049.1h0M1493.9 1049.1h0M1494.3 1047.4h0M1494.6 1045.6h0M1495.0 1043.8h0M1495.3 1037.8h0M1495.7 1036.6h0M1496.0 1032.6h0M1496.4 1028.6h0M1496.7 1025.6h0M1497.1 1018.5h0M1497.5 1014.0h0M1497.8 1012.4h0M1498.2 1006.4h0M1498.5 1006.5h0M1498.9 1000.7h0M1499.2 996.6h0M1499.6 989.5h0M1499.9 983.4h0M1500.3 982.9h0M1500.6 977.2h0M1501.0 969.7h0M1501.3 963.9h0M1501.7 960.7h0M1502.1 956.0h0M1502.4 947.4h0M1502.8 940.6h0M1503.1 938.4h0M1503.5 929.4h0M1503.8 925.8h0M1504.2 917.7h0M1504.5 911.0h0M1504.9 905.9h0M1505.2 896.9h0M1505.6 893.4h0M1506.0 884.9h0M1506.3 879.0h0M1506.7 871.5h0M1507.0 867.6h0M1507.4 861.0h0M1507.7 853.3h0M1508.1 848.6h0M1508.4 843.4h0M1508.8 838.0h0M1509.1 831.2h0M1509.5 826.8h0M1509.9 819.2h0M1510.2 812.0h0M1510.6 806.8h0M1510.9 800.5h0M1511.3 794.6h0M1511.6 787.3h0M1512.0 780.0h0M1512.3 774.0h0M1512.7 769.7h0M1513.0 762.9h0M1513.4 755.2h0M1513.8 745.8h0M1514.1 741.6h0M1514.5 729.3h0M1514.8 720.4h0M1515.2 714.4h0M1515.5 703.2h0M1515.9 693.2h0M1516.2 684.1h0M1516.6 673.3h0M1516.9 661.8h0M1517.3 647.3h0M1517.6 633.3h0M1518.0 611.7h0M1518.4 594.2h0M1518.7 574.9h0M1519.1 557.3h0M1519.4 538.9h0M1519.8 520.7h0M1520.1 500.4h0M1520.5 484.4h0M1520.8 465.1h0M1521.2 449.8h0M1521.5 428.5h0M1521.9 410.8h0M1522.3 391.5h0M1522.6 371.5h0M1523.0 356.1h0M1523.3 338.9h0M1523.7 325.3h0M1524.0 312.2h0M1524.4 298.7h0M1524.7 283.6h0M1525.1 273.9h0M1525.4 262.6h0M1525.8 251.8h0M1526.2 241.0h0M1526.5 229.9h0M1526.9 221.6h0M1527.2 214.9h0M1527.6 211.4h0M1527.9 207.4h0M1528.3 202.3h0M1528.6 194.1h0M1529.0 192.3h0M1529.3 188.5h0M1529.7 185.5h0M1530.1 181.9h0M1530.4 180.5h0M1530.8 177.5h0M1531.1 176.0h0M1531.5 179.1h0M1531.8 180.2h0M1532.2 184.4h0M1532.5 188.5h0M1532.9 197.2h0M1533.2 200.1h0M1533.6 206.2h0M1534.0 208.7h0M1534.3 214.3h0M1534.7 219.9h0M1535.0 224.7h0M1535.4 232.3h0M1535.7 235.4h0M1536.1 238.4h0M1536.4 247.3h0M1536.8 253.0h0M1537.1 254.5h0M1537.5 259.6h0M1537.8 266.0h0M1538.2 273.7h0M1538.6 277.7h0M1538.9 282.4h0M1539.3 285.9h0M1539.6 291.2h0M1540.0 294.4h0M1540.3 300.4h0M1540.7 307.8h0M1541.0 310.8h0M1541.4 312.9h0M1541.7 317.5h0M1542.1 324.7h0M1542.5 329.3h0M1542.8 335.6h0M1543.2 339.9h0M1543.5 343.6h0M1543.9 347.7h0M1544.2 351.2h0M1544.6 355.7h0M1544.9 360.9h0M1545.3 362.8h0M1545.6 365.7h0M1546.0 369.4h0M1546.4 374.7h0M1546.7 379.6h0M1547.1 380.2h0M1547.4 385.9h0M1547.8 388.9h0M1548.1 388.5h0M1548.5 393.0h0M1548.8 397.0h0M1549.2 397.1h0M1549.5 400.4h0M1549.9 405.4h0M1550.3 407.1h0M1550.6 410.5h0M1551.0 412.8h0M1551.3 412.8h0M1551.7 415.5h0M1552.0 420.1h0M1552.4 418.6h0M1552.7 422.6h0M1553.1 421.9h0M1553.4 426.2h0M1553.8 429.4h0M1554.2 428.3h0M1554.5 430.4h0M1554.9 432.6h0M1555.2 437.1h0M1555.6 437.4h0M1555.9 436.8h0M1556.3 440.2h0M1556.6 443.8h0M1557.0 443.2h0M1557.3 444.7h0M1557.7 447.8h0M1558.0 449.9h0M1558.4 447.6h0M1558.8 448.6h0M1559.1 453.8h0M1559.5 452.7h0M1559.8 456.0h0M1560.2 457.5h0M1560.5 458.5h0M1560.9 458.6h0M1561.2 458.8h0M1561.6 463.8h0M1561.9 462.7h0M1562.3 464.2h0M1562.7 464.4h0M1563.0 465.8h0M1563.4 469.0h0M1563.7 470.9h0M1564.1 470.2h0M1564.4 473.1h0M1564.8 473.6h0M1565.1 474.1h0M1565.5 478.0h0M1565.8 480.1h0M1566.2 482.6h0M1566.6 480.0h0M1566.9 482.4h0M1567.3 485.2h0M1567.6 482.9h0M1568.0 483.9h0M1568.3 487.1h0M1568.7 488.6h0M1569.0 489.7h0M1569.4 487.9h0M1569.7 492.0h0M1570.1 492.6h0M1570.5 490.3h0M1570.8 493.4h0M1571.2 494.0h0M1571.5 496.5h0M1571.9 496.2h0M1572.2 493.9h0M1572.6 496.1h0M1572.9 496.1h0M1573.3 498.6h0M1573.6 500.8h0M1574.0 496.8h0M1574.3 500.7h0M1574.7 502.3h0M1575.1 501.8h0M1575.4 501.3h0M1575.8 502.0h0M1576.1 501.8h0M1576.5 503.9h0M1576.8 502.1h0M1577.2 501.7h0M1577.5 502.9h0M1577.9 505.5h0M1578.2 506.2h0M1578.6 506.5h0M1579.0 506.7h0M1579.3 507.9h0M1579.7 504.9h0M1580.0 507.5h0M1580.4 508.5h0M1580.7 508.3h0M1581.1 511.0h0M1581.4 510.0h0M1581.8 508.2h0M1582.1 508.1h0M1582.5 510.6h0M1582.9 512.6h0M1583.2 509.2h0M1583.6 510.7h0M1583.9 509.8h0M1584.3 513.4h0M1584.6 513.8h0M1585.0 511.2h0M1585.3 515.3h0M1585.7 512.0h0M1586.0 516.5h0M1586.4 515.4h0M1586.8 512.8h0M1587.1 513.9h0M1587.5 513.9h0M1587.8 513.8h0M1588.2 514.9h0M1588.5 517.8h0M1588.9 514.3h0M1589.2 514.9h0M1589.6 516.7h0M1589.9 517.4h0M1590.3 518.0h0M1590.7 516.2h0M1591.0 517.5h0M1591.4 520.1h0M1591.7 516.7h0M1592.1 518.5h0M1592.4 519.4h0M1592.8 516.9h0M1593.1 518.2h0M1593.5 519.6h0M1593.8 519.1h0M1594.2 517.1h0M1594.5 518.4h0M1594.9 521.7h0M1595.3 518.2h0M1595.6 518.1h0M1596.0 518.1h0M1596.3 521.5h0M1596.7 518.9h0M1597.0 518.5h0M1597.4 519.1h0M1597.7 522.4h0M1598.1 520.5h0M1598.4 518.1h0M1598.8 519.8h0M1599.2 519.2h0M1599.5 522.1h0M1599.9 519.4h0M1600.2 518.6h0M1600.6 519.5h0M1600.9 521.6h0M1601.3 522.9h0M1601.6 519.6h0M1602.0 521.1h0M1602.3 518.8h0M1602.7 520.6h0M1603.1 520.4h0M1603.4 521.8h0M1603.8 522.6h0M1604.1 520.4h0M1604.5 521.4h0M1604.8 518.3h0M1605.2 518.2h0M1605.5 521.8h0M1605.9 518.3h0M1606.2 519.4h0M1606.6 518.0h0M1607.0 519.5h0M1607.3 520.6h0M1607.7 520.5h0M1608.0 518.3h0M1608.4 521.0h0M1608.7 521.2h0M1609.1 518.7h0M1609.4 517.4h0M1609.8 521.2h0M1610.1 517.3h0M1610.5 521.1h0M1610.8 519.9h0M1611.2 519.3h0M1611.6 519.8h0M1611.9 518.0h0M1612.3 519.2h0M1612.6 519.6h0M1613.0 520.1h0M1613.3 519.5h0M1613.7 518.5h0M1614.0 517.9h0M1614.4 518.1h0M1614.7 518.7h0M1615.1 518.7h0M1615.5 515.6h0M1615.8 515.4h0M1616.2 517.5h0M1616.5 517.4h0M1616.9 516.6h0M1617.2 515.7h0M1617.6 513.8h0M1617.9 516.5h0M1618.3 517.4h0M1618.6 514.8h0M1619.0 516.3h0M1619.4 513.1h0M1619.7 515.9h0M1620.1 511.7h0M1620.4 513.3h0M1620.8 515.3h0M1621.1 510.9h0M1621.5 513.6h0M1621.8 511.5h0M1622.2 511.3h0M1622.5 511.8h0M1622.9 512.1h0M1623.3 509.5h0M1623.6 509.8h0M1624.0 512.2h0M1624.3 511.9h0M1624.7 510.9h0M1625.0 512.1h0M1625.4 511.2h0M1625.7 508.3h0M1626.1 508.3h0M1626.4 509.3h0M1626.8 509.4h0M1627.2 507.0h0M1627.5 508.3h0M1627.9 505.8h0M1628.2 508.9h0M1628.6 504.0h0M1628.9 507.3h0M1629.3 505.1h0M1629.6 502.7h0M1630.0 503.6h0M1630.3 506.3h0M1630.7 504.0h0M1631.0 502.5h0M1631.4 505.0h0M1631.8 504.4h0M1632.1 499.7h0M1632.5 503.8h0M1632.8 502.8h0M1633.2 502.1h0M1633.5 499.3h0M1633.9 497.4h0M1634.2 500.7h0M1634.6 499.2h0M1634.9 497.0h0M1635.3 497.7h0M1635.7 498.0h0M1636.0 496.6h0M1636.4 494.7h0M1636.7 496.9h0M1637.1 496.4h0M1637.4 494.4h0M1637.8 494.3h0M1638.1 490.5h0M1638.5 490.9h0M1638.8 489.4h0M1639.2 489.8h0M1639.6 489.7h0M1639.9 488.0h0M1640.3 489.4h0M1640.6 484.8h0M1641.0 486.6h0M1641.3 483.0h0M1641.7 482.7h0M1642.0 482.9h0M1642.4 484.1h0M1642.7 483.1h0M1643.1 478.1h0M1643.5 480.7h0M1643.8 479.4h0M1644.2 475.9h0M1644.5 473.0h0M1644.9 475.5h0M1645.2 474.1h0M1645.6 473.3h0M1645.9 468.0h0M1646.3 466.5h0M1646.6 466.1h0M1647.0 465.2h0M1647.3 463.3h0M1647.7 462.9h0M1648.1 462.5h0M1648.4 459.5h0M1648.8 460.2h0M1649.1 457.9h0M1649.5 453.5h0M1649.8 452.7h0M1650.2 454.4h0M1650.5 452.2h0M1650.9 447.4h0M1651.2 447.5h0M1651.6 446.1h0M1652.0 445.4h0M1652.3 445.0h0M1652.7 439.3h0M1653.0 441.5h0M1653.4 435.4h0M1653.7 433.8h0M1654.1 434.2h0M1654.4 432.6h0M1654.8 430.1h0M1655.1 426.0h0M1655.5 427.3h0M1655.9 425.0h0M1656.2 419.8h0M1656.6 420.9h0M1656.9 418.9h0M1657.3 416.9h0M1657.6 414.5h0M1658.0 409.0h0M1658.3 409.4h0M1658.7 406.1h0M1659.0 402.6h0M1659.4 400.0h0M1659.8 400.4h0M1660.1 399.0h0M1660.5 394.7h0M1660.8 392.1h0M1661.2 387.0h0M1661.5 384.1h0M1661.9 381.6h0M1662.2 378.2h0M1662.6 376.8h0M1662.9 371.4h0M1663.3 367.9h0M1663.7 364.9h0M1664.0 360.4h0M1664.4 356.5h0M1664.7 350.4h0M1665.1 350.7h0M1665.4 341.9h0M1665.8 337.5h0M1666.1 333.6h0M1666.5 330.9h0M1666.8 326.3h0M1667.2 321.2h0M1667.5 317.5h0M1667.9 314.9h0M1668.3 309.3h0M1668.6 302.6h0M1669.0 299.2h0M1669.3 293.9h0M1669.7 290.2h0M1670.0 289.1h0M1670.4 280.6h0M1670.7 279.8h0M1671.1 272.0h0M1671.4 269.3h0M1671.8 264.3h0M1672.2 262.1h0M1672.5 255.0h0M1672.9 252.5h0M1673.2 248.5h0M1673.6 240.7h0M1673.9 238.3h0M1674.3 235.8h0M1674.6 232.5h0M1675.0 229.7h0M1675.3 225.2h0M1675.7 224.1h0M1676.1 217.5h0M1676.4 217.2h0M1676.8 211.3h0M1677.1 213.4h0M1677.5 209.9h0M1677.8 211.9h0M1678.2 211.0h0M1678.5 214.1h0M1678.9 214.4h0M1679.2 220.2h0M1679.6 226.8h0M1680.0 226.9h0M1680.3 233.5h0M1680.7 240.5h0M1681.0 244.4h0M1681.4 250.0h0M1681.7 261.8h0M1682.1 271.7h0M1682.4 281.1h0M1682.8 291.0h0M1683.1 302.7h0M1683.5 317.8h0M1683.8 332.2h0M1684.2 344.5h0M1684.6 360.3h0M1684.9 375.9h0M1685.3 392.6h0M1685.6 415.9h0M1686.0 434.7h0M1686.3 453.6h0M1686.7 470.3h0M1687.0 491.0h0M1687.4 506.5h0M1687.7 524.7h0M1688.1 539.6h0M1688.5 559.9h0M1688.8 576.3h0M1689.2 595.8h0M1689.5 612.0h0M1689.9 629.1h0M1690.2 643.5h0M1690.6 654.8h0M1690.9 664.0h0M1691.3 673.6h0M1691.6 679.3h0M1692.0 685.7h0" fill="none" stroke="#000" stroke-width="22.0" stroke-linecap="round"/></g>
<g fill="#000">
<rect x="238" y="84" width="1457" height="6"/>
<rect x="238" y="1157" width="1457" height="5"/>
<rect x="238" y="84" width="5" height="1078"/>
<rect x="1689" y="84" width="6" height="1078"/>
</g>
<path d="M239.0 1159.5H219.8M239.0 1092.5H230.8M239.0 1025.4H219.8M239.0 958.4H230.8M239.0 891.4H219.8M239.0 824.3H230.8M239.0 757.3H219.8M239.0 690.3H230.8M239.0 623.2H219.8M239.0 556.2H230.8M239.0 489.2H219.8M239.0 422.2H230.8M239.0 355.1H219.8M239.0 288.1H230.8M239.0 221.1H219.8M239.0 154.0H230.8M239.0 87.0H219.8" fill="none" stroke="#000" stroke-width="5.4" stroke-linecap="round"/>
<path d="M240.5 1160.0V1183.0M361.5 1160.0V1172.5M482.4 1160.0V1183.0M603.4 1160.0V1172.5M724.3 1160.0V1183.0M845.3 1160.0V1172.5M966.2 1160.0V1183.0M1087.2 1160.0V1172.5M1208.2 1160.0V1183.0M1329.1 1160.0V1172.5M1450.1 1160.0V1183.0M1571.0 1160.0V1172.5M1692.0 1160.0V1183.0" fill="none" stroke="#000" stroke-width="5" stroke-linecap="butt"/>
<g font-size="52.0">
<text x="113.5" y="1169.5" textLength="91.8" lengthAdjust="spacingAndGlyphs">-120</text>
<text x="139.6" y="1035.4" textLength="65.7" lengthAdjust="spacingAndGlyphs">-90</text>
<text x="139.6" y="901.4" textLength="65.7" lengthAdjust="spacingAndGlyphs">-60</text>
<text x="139.6" y="767.3" textLength="65.7" lengthAdjust="spacingAndGlyphs">-30</text>
<text x="180.7" y="633.2" textLength="24.6" lengthAdjust="spacingAndGlyphs">0</text>
<text x="156.0" y="499.2" textLength="49.3" lengthAdjust="spacingAndGlyphs">30</text>
<text x="156.0" y="365.1" textLength="49.3" lengthAdjust="spacingAndGlyphs">60</text>
<text x="156.0" y="231.1" textLength="49.3" lengthAdjust="spacingAndGlyphs">90</text>
<text x="130.2" y="97.0" textLength="75.2" lengthAdjust="spacingAndGlyphs">120</text>
<text x="228.2" y="1230.3" textLength="24.6" lengthAdjust="spacingAndGlyphs">0</text>
<text x="457.8" y="1230.3" textLength="49.3" lengthAdjust="spacingAndGlyphs">60</text>
<text x="686.8" y="1230.3" textLength="75.2" lengthAdjust="spacingAndGlyphs">120</text>
<text x="928.7" y="1230.3" textLength="75.2" lengthAdjust="spacingAndGlyphs">180</text>
<text x="1171.2" y="1230.3" textLength="73.9" lengthAdjust="spacingAndGlyphs">240</text>
<text x="1413.1" y="1230.3" textLength="73.9" lengthAdjust="spacingAndGlyphs">300</text>
<text x="1655.0" y="1230.3" textLength="73.9" lengthAdjust="spacingAndGlyphs">360</text>
</g>
<text font-size="60.5" y="1352.2"><tspan x="656.80" textLength="304.50" lengthAdjust="spacingAndGlyphs">Mechanical</tspan> <tspan x="976.20" textLength="145.50" lengthAdjust="spacingAndGlyphs">angle</tspan> <tspan x="1136.50" textLength="136.50" lengthAdjust="spacingAndGlyphs">[deg]</tspan></text>
<text font-size="60.5" transform="translate(72.6 0) rotate(-90)" y="0"><tspan x="-831.50" textLength="164.00" lengthAdjust="spacingAndGlyphs">Gauss</tspan> <tspan x="-652.30" textLength="144.50" lengthAdjust="spacingAndGlyphs">value</tspan></text>
</svg></body></html>
